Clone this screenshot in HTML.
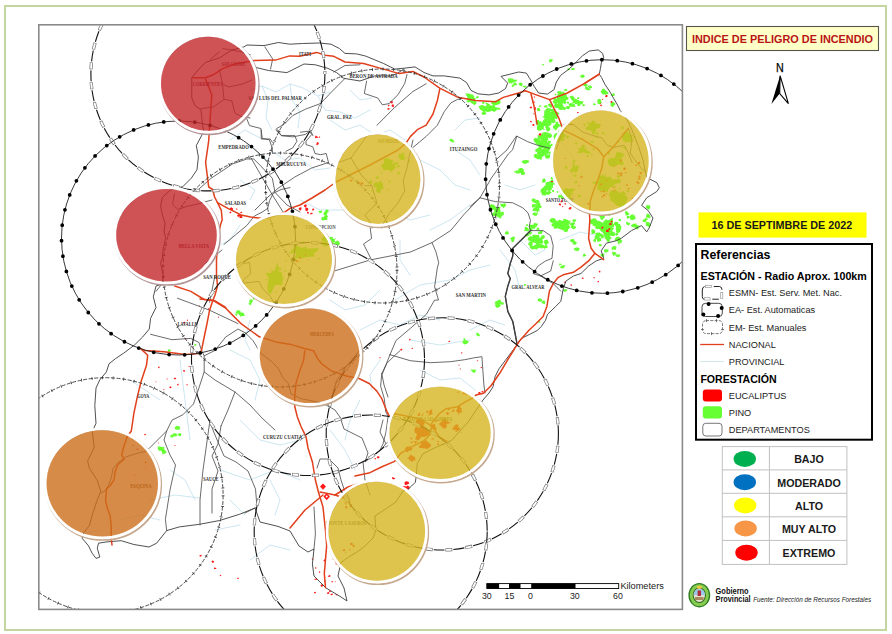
<!DOCTYPE html>
<html><head><meta charset="utf-8"><title>Indice de Peligro de Incendio</title>
<style>
html,body{margin:0;padding:0;background:#fff;}
body{width:892px;height:634px;overflow:hidden;position:relative;}
svg{position:absolute;left:0;top:0;display:block;}
.s{font-family:"Liberation Sans",Arial,sans-serif;}
.lbl{font-family:"Liberation Serif","Times New Roman",serif;font-weight:bold;font-size:5.8px;}
</style></head><body>
<svg width="892" height="634" viewBox="0 0 892 634">
<defs>
<clipPath id="mapclip"><rect x="39" y="25" width="643" height="584"/></clipPath>
<filter id="fz" x="-5%" y="-20%" width="110%" height="140%"><feGaussianBlur stdDeviation="0.6"/></filter>
</defs>
<rect x="0" y="0" width="892" height="634" fill="#fff"/>
<rect x="5" y="6" width="881" height="624" fill="none" stroke="#c3d6a0" stroke-width="2"/>
<g clip-path="url(#mapclip)">
<g id="blue"><polyline points="250.0,90.0 262.0,86.0 276.0,92.0 290.0,84.0 303.0,88.0 318.0,96.0 330.0,92.0" fill="none" stroke="#bfe0ee" stroke-width="0.8" stroke-linejoin="round" stroke-linecap="round" /><polyline points="262.0,86.0 268.0,100.0 266.0,118.0 272.0,130.0" fill="none" stroke="#bfe0ee" stroke-width="0.8" stroke-linejoin="round" stroke-linecap="round" /><polyline points="290.0,84.0 292.0,100.0 300.0,112.0 298.0,128.0" fill="none" stroke="#bfe0ee" stroke-width="0.8" stroke-linejoin="round" stroke-linecap="round" /><polyline points="318.0,96.0 325.0,110.0 340.0,112.0 355.0,118.0 370.0,110.0" fill="none" stroke="#bfe0ee" stroke-width="0.8" stroke-linejoin="round" stroke-linecap="round" /><polyline points="255.0,150.0 268.0,160.0" fill="none" stroke="#bfe0ee" stroke-width="0.8" stroke-linejoin="round" stroke-linecap="round" /><polyline points="230.0,140.0 245.0,130.0 260.0,138.0" fill="none" stroke="#bfe0ee" stroke-width="0.8" stroke-linejoin="round" stroke-linecap="round" /><polyline points="300.0,200.0 320.0,210.0 345.0,210.0 365.0,222.0" fill="none" stroke="#bfe0ee" stroke-width="0.8" stroke-linejoin="round" stroke-linecap="round" /><polyline points="180.0,360.0 185.0,400.0 190.0,440.0" fill="none" stroke="#bfe0ee" stroke-width="0.8" stroke-linejoin="round" stroke-linecap="round" /><polyline points="220.0,470.0 250.0,480.0 275.0,470.0 300.0,480.0" fill="none" stroke="#bfe0ee" stroke-width="0.8" stroke-linejoin="round" stroke-linecap="round" /><polyline points="150.0,500.0 175.0,495.0 200.0,498.0" fill="none" stroke="#bfe0ee" stroke-width="0.8" stroke-linejoin="round" stroke-linecap="round" /><polyline points="215.0,530.0 240.0,525.0" fill="none" stroke="#bfe0ee" stroke-width="0.8" stroke-linejoin="round" stroke-linecap="round" /><polyline points="240.0,420.0 260.0,440.0 280.0,445.0 300.0,440.0" fill="none" stroke="#bfe0ee" stroke-width="0.8" stroke-linejoin="round" stroke-linecap="round" /><polyline points="330.0,430.0 345.0,450.0 355.0,470.0" fill="none" stroke="#bfe0ee" stroke-width="0.8" stroke-linejoin="round" stroke-linecap="round" /><polyline points="360.0,330.0 380.0,320.0 400.0,325.0 420.0,315.0 440.0,320.0" fill="none" stroke="#bfe0ee" stroke-width="0.8" stroke-linejoin="round" stroke-linecap="round" /><polyline points="410.0,340.0 440.0,345.0 470.0,340.0" fill="none" stroke="#bfe0ee" stroke-width="0.8" stroke-linejoin="round" stroke-linecap="round" /><polyline points="395.0,300.0 420.0,285.0 450.0,280.0 470.0,270.0 490.0,265.0" fill="none" stroke="#bfe0ee" stroke-width="0.8" stroke-linejoin="round" stroke-linecap="round" /><polyline points="430.0,230.0 450.0,220.0 470.0,205.0" fill="none" stroke="#bfe0ee" stroke-width="0.8" stroke-linejoin="round" stroke-linecap="round" /><polyline points="455.0,150.0 470.0,160.0 480.0,175.0" fill="none" stroke="#bfe0ee" stroke-width="0.8" stroke-linejoin="round" stroke-linecap="round" /><polyline points="400.0,240.0 400.0,260.0 410.0,275.0" fill="none" stroke="#bfe0ee" stroke-width="0.8" stroke-linejoin="round" stroke-linecap="round" /><polyline points="500.0,250.0 515.0,270.0 520.0,290.0" fill="none" stroke="#bfe0ee" stroke-width="0.8" stroke-linejoin="round" stroke-linecap="round" /><polyline points="560.0,240.0 580.0,232.0 600.0,236.0" fill="none" stroke="#bfe0ee" stroke-width="0.8" stroke-linejoin="round" stroke-linecap="round" /><polyline points="270.0,150.0 285.0,160.0 300.0,158.0 315.0,170.0 330.0,168.0" fill="none" stroke="#bfe0ee" stroke-width="0.8" stroke-linejoin="round" stroke-linecap="round" /><polyline points="240.0,180.0 255.0,190.0 250.0,200.0" fill="none" stroke="#bfe0ee" stroke-width="0.8" stroke-linejoin="round" stroke-linecap="round" /><polyline points="330.0,120.0 345.0,130.0 360.0,125.0 375.0,135.0 390.0,130.0 405.0,140.0" fill="none" stroke="#bfe0ee" stroke-width="0.8" stroke-linejoin="round" stroke-linecap="round" /><polyline points="350.0,90.0 360.0,100.0 372.0,98.0" fill="none" stroke="#bfe0ee" stroke-width="0.8" stroke-linejoin="round" stroke-linecap="round" /><polyline points="420.0,160.0 440.0,170.0 455.0,185.0 470.0,190.0" fill="none" stroke="#bfe0ee" stroke-width="0.8" stroke-linejoin="round" stroke-linecap="round" /><polyline points="330.0,300.0 345.0,310.0 365.0,305.0 380.0,290.0" fill="none" stroke="#bfe0ee" stroke-width="0.8" stroke-linejoin="round" stroke-linecap="round" /><polyline points="250.0,320.0 245.0,340.0 250.0,350.0" fill="none" stroke="#bfe0ee" stroke-width="0.8" stroke-linejoin="round" stroke-linecap="round" /><polyline points="380.0,360.0 370.0,375.0 372.0,390.0" fill="none" stroke="#bfe0ee" stroke-width="0.8" stroke-linejoin="round" stroke-linecap="round" /><polyline points="420.0,370.0 440.0,380.0 460.0,378.0 475.0,390.0" fill="none" stroke="#bfe0ee" stroke-width="0.8" stroke-linejoin="round" stroke-linecap="round" /><polyline points="230.0,500.0 245.0,515.0" fill="none" stroke="#bfe0ee" stroke-width="0.8" stroke-linejoin="round" stroke-linecap="round" /><polyline points="270.0,480.0 280.0,500.0 275.0,515.0" fill="none" stroke="#bfe0ee" stroke-width="0.8" stroke-linejoin="round" stroke-linecap="round" /><polyline points="170.0,470.0 185.0,480.0 195.0,500.0" fill="none" stroke="#bfe0ee" stroke-width="0.8" stroke-linejoin="round" stroke-linecap="round" /><polyline points="130.0,380.0 145.0,390.0 160.0,400.0" fill="none" stroke="#bfe0ee" stroke-width="0.8" stroke-linejoin="round" stroke-linecap="round" /><polyline points="100.0,530.0 80.0,535.0" fill="none" stroke="#bfe0ee" stroke-width="0.8" stroke-linejoin="round" stroke-linecap="round" /><polyline points="520.0,240.0 535.0,255.0 545.0,250.0" fill="none" stroke="#bfe0ee" stroke-width="0.8" stroke-linejoin="round" stroke-linecap="round" /><polyline points="505.0,185.0 520.0,190.0 535.0,185.0" fill="none" stroke="#bfe0ee" stroke-width="0.8" stroke-linejoin="round" stroke-linecap="round" /><polyline points="560.0,140.0 575.0,160.0 570.0,180.0" fill="none" stroke="#bfe0ee" stroke-width="0.8" stroke-linejoin="round" stroke-linecap="round" /><polyline points="470.0,330.0 490.0,320.0 505.0,325.0" fill="none" stroke="#bfe0ee" stroke-width="0.8" stroke-linejoin="round" stroke-linecap="round" /><polyline points="455.0,130.0 465.0,120.0 480.0,118.0" fill="none" stroke="#bfe0ee" stroke-width="0.8" stroke-linejoin="round" stroke-linecap="round" /><polyline points="390.0,210.0 410.0,220.0 430.0,215.0" fill="none" stroke="#bfe0ee" stroke-width="0.8" stroke-linejoin="round" stroke-linecap="round" /><polyline points="360.0,400.0 350.0,420.0 345.0,440.0" fill="none" stroke="#bfe0ee" stroke-width="0.8" stroke-linejoin="round" stroke-linecap="round" /><polyline points="230.0,350.0 250.0,360.0 260.0,380.0 255.0,400.0" fill="none" stroke="#bfe0ee" stroke-width="0.8" stroke-linejoin="round" stroke-linecap="round" /><polyline points="210.0,250.0 230.0,240.0 240.0,225.0" fill="none" stroke="#bfe0ee" stroke-width="0.8" stroke-linejoin="round" stroke-linecap="round" /><polyline points="120.0,520.0 140.0,515.0 160.0,520.0" fill="none" stroke="#bfe0ee" stroke-width="0.8" stroke-linejoin="round" stroke-linecap="round" /><polyline points="250.0,560.0 270.0,545.0 290.0,550.0" fill="none" stroke="#bfe0ee" stroke-width="0.8" stroke-linejoin="round" stroke-linecap="round" /></g>
<g id="green"><polygon points="555.9,117.0 554.5,118.9 556.1,122.8 551.9,121.3 550.9,125.1 548.3,123.9 547.2,121.2 543.6,122.1 545.3,118.6 542.3,117.0 545.1,115.3 545.8,113.7 545.9,110.6 547.8,106.9 550.4,111.8 552.4,111.8 556.0,111.3 559.5,113.2" fill="#66ff33"/><polygon points="553.5,114.8 551.8,116.9 548.4,115.2 550.2,112.9 552.7,112.7" fill="#66ff33"/><polygon points="541.7,123.0 539.7,124.3 537.8,123.4 537.8,122.3 539.2,121.2 540.8,121.1" fill="#66ff33"/><polygon points="547.8,115.8 545.5,117.1 544.2,116.1 544.0,113.8 547.3,113.6" fill="#66ff33"/><polygon points="546.4,122.1 546.4,123.8 544.8,124.3 542.9,123.3 542.8,121.5 543.6,119.8 545.4,119.6 546.9,120.9" fill="#66ff33"/><polygon points="551.5,110.0 549.7,110.7 548.4,110.6 547.7,109.6 548.9,108.1 551.0,108.8" fill="#66ff33"/><polygon points="547.6,110.1 546.9,111.1 546.0,110.5 545.4,109.8 546.1,108.6 547.5,109.3" fill="#66ff33"/><polygon points="553.6,121.8 553.0,122.4 552.3,123.0 551.7,122.0 551.6,121.4 551.8,120.6 553.1,120.6 553.2,121.0" fill="#66ff33"/><polygon points="548.5,120.9 548.1,123.6 545.3,122.4 543.1,121.6 544.4,118.7 546.8,118.0 549.2,118.1" fill="#66ff33"/><polygon points="549.3,123.4 546.8,123.8 545.2,123.6 543.1,122.1 544.3,120.4 545.6,119.0 549.4,120.7" fill="#66ff33"/><polygon points="559.7,125.5 557.7,128.2 555.1,126.6 554.4,125.1 556.1,122.8 558.9,124.1" fill="#66ff33"/><polygon points="562.4,106.2 562.2,107.4 560.8,107.1 559.9,106.7 559.9,106.0 560.8,104.8 561.8,105.1 562.6,105.2" fill="#66ff33"/><polygon points="548.8,125.5 546.8,126.2 544.4,126.2 542.7,126.0 542.2,123.9 543.9,122.6 546.3,123.2 547.0,124.0" fill="#66ff33"/><polygon points="558.7,123.2 557.1,123.8 556.3,123.6 555.6,122.7 556.5,121.9 558.0,121.7" fill="#66ff33"/><polygon points="548.5,116.9 547.0,117.0 545.1,118.3 543.6,116.7 544.3,115.4 544.2,114.4 545.9,114.6 547.9,115.1" fill="#66ff33"/><polygon points="551.4,124.4 548.9,126.6 545.9,125.2 547.8,122.2 550.7,122.2" fill="#66ff33"/><polygon points="551.4,122.4 551.1,123.9 548.6,124.0 548.3,122.4 548.0,121.7 548.8,120.8 550.4,120.5 551.1,121.1" fill="#66ff33"/><polygon points="543.9,124.4 540.5,126.1 538.3,125.9 536.1,124.9 538.6,122.8 540.0,121.7 541.8,122.9" fill="#66ff33"/><polygon points="545.7,122.9 545.7,123.7 544.8,123.4 543.6,123.1 544.2,122.5 544.5,122.3 545.3,122.0 545.8,122.2" fill="#66ff33"/><polygon points="561.4,125.7 560.2,126.4 558.5,126.6 557.7,125.1 559.4,124.5 560.5,124.3" fill="#66ff33"/><polygon points="553.6,110.1 552.3,111.6 551.1,110.3 551.4,108.9 552.7,108.8" fill="#66ff33"/><polygon points="539.6,109.5 539.1,110.7 537.5,110.9 537.1,109.2 536.7,108.6 538.7,107.8 539.5,108.3" fill="#66ff33"/><polygon points="555.3,121.7 554.7,122.2 553.2,123.5 551.9,121.5 550.6,119.6 552.9,119.7 554.4,118.4 554.8,120.2" fill="#66ff33"/><polygon points="556.0,114.5 554.6,115.0 553.2,114.9 551.8,114.3 552.5,112.7 553.1,111.7 554.8,112.9" fill="#66ff33"/><polygon points="547.4,106.4 546.3,107.7 544.4,107.4 544.0,105.9 545.1,105.2 547.2,105.2" fill="#66ff33"/><polygon points="543.8,128.2 542.0,128.8 540.3,128.8 538.0,128.1 538.4,126.7 539.8,125.2 542.3,124.8 543.8,125.9" fill="#66ff33"/><polygon points="539.2,121.9 538.1,124.8 535.7,123.5 535.7,121.8 536.8,120.1 539.0,120.1" fill="#66ff33"/><polygon points="540.6,128.8 538.6,130.2 536.8,129.3 537.5,126.7 541.2,125.7" fill="#66ff33"/><polygon points="551.4,114.6 549.8,115.1 548.9,115.3 547.6,114.1 548.4,113.2 549.0,112.5 551.4,112.9" fill="#66ff33"/><polygon points="556.4,112.1 554.5,113.3 553.7,112.8 552.4,112.3 551.7,111.5 553.1,109.2 554.4,109.3 555.3,111.2" fill="#66ff33"/><polygon points="541.3,123.5 540.1,125.1 538.5,124.4 537.6,123.4 538.3,123.0 539.3,122.1 540.1,122.8" fill="#66ff33"/><polygon points="548.0,112.5 546.0,115.3 544.1,113.0 544.4,110.6 546.5,110.2" fill="#66ff33"/><polygon points="561.0,106.8 560.7,108.2 557.6,107.5 556.0,105.9 555.9,104.3 559.2,103.7 561.0,103.7" fill="#66ff33"/><polygon points="548.4,127.2 547.3,128.5 545.1,128.0 545.5,126.6 546.9,125.4 548.3,125.6" fill="#66ff33"/><polygon points="546.8,123.6 545.9,125.8 543.5,125.9 541.7,124.2 542.4,121.2 544.4,121.0 546.9,122.0" fill="#66ff33"/><polygon points="552.0,110.5 550.6,111.3 549.1,111.3 549.5,109.3 551.2,109.4" fill="#66ff33"/><polygon points="558.1,117.1 556.8,119.2 555.2,118.4 553.8,117.5 553.4,115.4 556.4,114.6 556.7,116.0" fill="#66ff33"/><polygon points="556.6,127.3 555.5,129.3 553.6,129.4 553.6,128.0 552.6,127.2 553.6,125.2 555.5,125.5 556.6,126.6" fill="#66ff33"/><polygon points="552.5,105.4 551.4,108.0 548.8,106.5 547.7,104.5 549.8,103.4 552.5,104.1" fill="#66ff33"/><polygon points="544.4,124.9 544.2,125.6 543.1,125.5 542.8,124.7 542.5,123.9 543.3,123.8 544.7,124.1" fill="#66ff33"/><polygon points="540.3,110.0 539.9,111.3 538.2,111.0 536.7,110.0 537.9,109.1 539.5,108.6 540.4,109.3" fill="#66ff33"/><polygon points="544.7,124.3 543.7,125.4 542.5,125.3 541.5,124.1 540.7,123.8 541.5,122.4 542.7,122.4 543.9,123.3" fill="#66ff33"/><polygon points="541.8,106.2 540.0,106.8 538.8,106.8 538.6,105.9 539.4,105.4 540.6,105.2" fill="#66ff33"/><polygon points="564.4,107.8 562.2,110.1 559.0,109.7 557.8,107.0 560.1,105.1 563.2,105.7" fill="#66ff33"/><polygon points="554.3,110.5 554.9,112.3 552.4,112.8 550.8,111.0 549.7,110.1 551.9,109.0 553.5,108.9 554.0,109.7" fill="#66ff33"/><polygon points="557.8,127.8 556.1,130.5 553.7,128.1 554.3,126.5 557.6,125.6" fill="#66ff33"/><polygon points="543.7,125.4 542.4,126.7 540.2,125.8 538.5,124.6 540.9,123.5 542.9,123.0" fill="#66ff33"/><polygon points="548.1,143.0 550.5,147.5 549.0,150.9 547.5,154.4 544.7,150.1 543.5,148.7 542.4,148.1 540.3,148.9 538.6,146.7 539.3,143.0 540.5,140.6 540.5,137.5 541.3,134.2 543.0,132.6 545.0,132.0 547.2,132.6 548.3,136.3 547.0,140.9" fill="#66ff33"/><polygon points="551.3,137.0 550.2,138.1 548.8,138.3 547.7,136.8 547.8,136.1 549.2,134.9 550.8,136.1" fill="#66ff33"/><polygon points="544.8,129.6 543.9,129.8 542.9,129.7 542.3,128.6 543.4,128.2 544.3,128.6" fill="#66ff33"/><polygon points="543.4,152.2 540.4,152.9 538.4,152.1 539.3,149.9 542.6,148.8" fill="#66ff33"/><polygon points="550.7,152.7 550.3,154.2 548.4,153.5 547.4,153.1 547.4,151.4 548.8,151.4 550.6,151.8" fill="#66ff33"/><polygon points="544.1,138.4 541.4,138.6 538.4,139.7 537.8,137.5 537.4,135.2 540.5,135.4 541.9,135.9" fill="#66ff33"/><polygon points="548.0,139.0 545.9,141.8 543.7,141.0 542.6,138.5 544.3,137.3 547.7,136.9" fill="#66ff33"/><polygon points="541.1,143.1 539.4,145.3 535.9,144.6 536.0,142.2 537.2,140.2 540.2,141.3" fill="#66ff33"/><polygon points="551.3,147.2 550.6,148.3 548.2,147.9 547.8,146.5 549.2,144.1 551.0,144.9" fill="#66ff33"/><polygon points="550.7,129.6 547.8,131.9 545.9,129.7 546.3,127.7 549.4,127.1" fill="#66ff33"/><polygon points="542.5,128.5 540.0,130.4 538.6,130.6 537.2,129.3 536.8,127.7 537.2,125.9 538.9,125.3 541.5,126.1" fill="#66ff33"/><polygon points="549.9,143.8 549.0,143.9 548.0,144.5 547.8,143.9 547.5,143.0 547.9,142.2 548.9,142.2 549.7,142.5" fill="#66ff33"/><polygon points="547.3,136.2 547.0,137.3 544.9,137.0 544.4,135.7 544.7,134.9 545.7,133.9 546.9,134.7" fill="#66ff33"/><polygon points="543.4,152.2 541.8,153.2 540.0,152.4 540.3,150.6 542.9,150.7" fill="#66ff33"/><polygon points="552.4,136.5 549.5,137.8 547.2,137.0 546.5,135.1 547.9,132.5 551.3,134.0" fill="#66ff33"/><polygon points="542.3,128.2 541.3,128.9 540.4,128.9 540.2,127.9 540.4,127.1 541.8,127.2" fill="#66ff33"/><polygon points="546.4,140.6 544.9,141.4 543.4,141.0 543.3,140.3 544.1,138.6 545.8,139.6" fill="#66ff33"/><polygon points="542.6,129.0 541.1,130.2 539.4,129.7 538.8,128.9 538.6,127.7 539.8,125.8 541.9,126.7" fill="#66ff33"/><polygon points="547.9,134.4 547.5,135.0 546.4,136.0 544.4,134.6 544.1,133.9 545.7,132.5 547.2,132.5 547.6,133.2" fill="#66ff33"/><polygon points="541.1,129.6 540.4,130.5 538.7,130.4 537.8,129.7 538.9,128.2 540.0,128.2 540.8,128.3" fill="#66ff33"/><polygon points="550.3,156.5 548.8,158.2 545.8,158.6 544.7,156.2 546.0,155.0 548.0,155.0 550.1,154.1" fill="#66ff33"/><polygon points="541.5,155.0 540.4,156.1 539.7,156.1 537.5,155.2 538.0,154.4 537.6,152.7 540.7,152.1 541.4,153.9" fill="#66ff33"/><polygon points="548.4,140.1 545.3,141.0 543.6,139.8 542.5,137.1 547.7,137.0" fill="#66ff33"/><polygon points="539.0,150.6 538.1,152.0 537.0,152.4 536.0,151.7 534.7,150.2 536.2,149.1 538.5,148.8 539.8,149.8" fill="#66ff33"/><polygon points="538.8,140.7 536.6,141.7 535.1,140.6 535.7,139.3 537.0,139.2" fill="#66ff33"/><polygon points="549.5,157.4 548.8,158.6 547.7,158.6 547.1,157.9 546.8,157.2 547.9,156.6 548.3,156.1 549.3,157.0" fill="#66ff33"/><polygon points="553.1,145.0 552.7,146.1 551.4,146.2 550.9,145.2 550.4,144.0 551.9,143.8 552.8,144.4" fill="#66ff33"/><polygon points="545.6,144.3 544.1,146.6 540.4,144.7 541.5,142.6 545.2,142.2" fill="#66ff33"/><polygon points="540.3,142.4 538.5,144.8 535.6,143.7 535.1,140.6 537.5,139.8 540.3,139.3" fill="#66ff33"/><polygon points="542.0,157.5 541.5,159.9 537.3,158.5 537.8,156.2 539.7,154.9 541.8,154.8" fill="#66ff33"/><polygon points="539.4,140.6 537.1,141.5 534.7,141.4 533.3,138.9 535.7,137.7 538.5,138.7" fill="#66ff33"/><polygon points="542.6,150.5 540.4,151.6 538.2,150.8 536.3,149.1 539.1,147.1 541.3,147.9" fill="#66ff33"/><polygon points="544.8,147.3 544.5,148.4 542.2,147.3 541.8,146.5 542.9,144.5 544.3,145.5" fill="#66ff33"/><polygon points="551.2,142.1 550.1,142.9 549.1,143.4 548.2,142.6 547.7,141.4 548.2,140.4 549.7,140.9 550.7,141.0" fill="#66ff33"/><polygon points="537.5,140.9 537.1,141.9 534.5,142.2 533.6,140.5 535.1,139.8 536.5,139.5 537.5,140.0" fill="#66ff33"/><polygon points="566.0,99.0 566.0,101.7 565.4,104.5 562.9,103.0 562.3,106.6 560.6,107.5 559.0,106.3 558.7,103.0 556.1,102.3 556.6,99.0 557.3,96.4 557.7,93.6 559.6,93.3 560.6,90.7 562.0,94.0 563.8,92.1 565.0,94.0 566.8,95.7" fill="#66ff33"/><polygon points="566.8,99.0 565.1,100.5 562.9,99.9 561.8,98.6 561.8,97.4 563.3,96.3 566.5,96.6" fill="#66ff33"/><polygon points="563.4,95.7 562.3,97.6 559.2,96.4 560.3,94.4 563.1,94.5" fill="#66ff33"/><polygon points="563.1,100.6 560.0,102.2 557.9,100.9 558.5,98.0 561.8,97.6" fill="#66ff33"/><polygon points="563.8,94.1 562.8,95.5 561.2,94.5 560.5,93.7 562.0,92.8 563.4,92.6" fill="#66ff33"/><polygon points="564.2,95.0 563.0,95.9 561.1,95.6 559.4,95.4 559.9,93.9 560.9,92.9 562.1,92.4 563.2,93.2" fill="#66ff33"/><polygon points="566.5,95.9 564.5,98.3 562.2,97.4 561.4,95.9 561.1,94.3 563.2,93.4 566.4,94.3" fill="#66ff33"/><polygon points="561.3,92.7 559.8,94.3 557.1,93.1 557.5,91.2 561.0,91.2" fill="#66ff33"/><polygon points="556.7,95.0 555.8,95.3 554.8,95.3 554.8,94.5 555.4,93.5 556.3,94.2" fill="#66ff33"/><polygon points="557.3,102.0 556.9,104.0 553.3,103.2 552.6,101.5 555.2,99.9 556.7,100.6" fill="#66ff33"/><polygon points="562.4,95.4 560.2,97.0 558.4,95.8 559.6,94.2 561.8,93.6" fill="#66ff33"/><polygon points="568.9,102.7 568.9,103.8 567.5,103.6 566.7,103.5 566.3,101.8 567.3,101.8 568.2,101.5 569.1,101.9" fill="#66ff33"/><polygon points="565.9,108.7 565.1,110.1 563.0,109.8 562.2,108.0 564.5,107.3 565.7,106.8" fill="#66ff33"/><polygon points="567.6,90.6 566.0,91.0 563.9,90.7 564.3,89.5 565.6,88.7 566.7,89.2" fill="#66ff33"/><polygon points="568.3,99.7 566.5,100.1 565.3,101.5 562.4,99.6 562.6,98.1 564.5,95.9 566.1,96.7 568.3,97.0" fill="#66ff33"/><polygon points="561.7,103.7 560.8,104.4 558.2,104.6 557.2,102.1 558.5,101.0 562.3,101.6" fill="#66ff33"/><polygon points="564.3,94.3 564.1,96.5 562.1,96.8 560.3,94.6 559.4,93.2 561.3,92.5 562.9,91.3 564.9,93.2" fill="#66ff33"/><polygon points="558.8,106.2 557.4,108.3 554.5,107.5 554.1,105.6 554.7,103.3 557.9,103.9" fill="#66ff33"/><polygon points="563.5,105.2 560.3,106.7 557.1,107.0 556.7,105.0 558.7,102.9 560.6,103.8" fill="#66ff33"/><polygon points="570.4,107.3 568.7,109.3 565.8,108.4 566.4,106.4 567.1,105.9 568.7,106.1" fill="#66ff33"/><polygon points="559.1,101.0 556.9,103.1 554.5,103.2 553.9,100.9 553.4,100.0 553.2,98.0 556.2,98.5 558.0,99.5" fill="#66ff33"/><polygon points="580.7,102.0 582.5,103.2 579.7,103.4 580.4,105.7 578.2,106.2 576.5,103.8 574.4,104.8 574.8,103.1 570.7,103.4 573.2,102.0 572.4,100.9 572.5,99.6 574.0,98.7 576.2,99.0 577.5,100.1 579.0,99.8 579.1,100.9 580.4,101.2" fill="#66ff33"/><polygon points="582.7,103.2 581.2,104.4 579.2,103.6 579.6,101.0 582.3,101.7" fill="#66ff33"/><polygon points="585.2,105.0 584.2,106.3 582.1,106.0 582.4,104.5 583.1,104.3 584.7,104.4" fill="#66ff33"/><polygon points="574.0,98.3 573.3,99.7 572.0,100.0 571.1,98.6 571.4,97.5 573.1,96.8 574.0,97.0" fill="#66ff33"/><polygon points="575.7,106.5 573.9,107.2 573.1,106.2 573.1,104.7 574.7,105.2" fill="#66ff33"/><polygon points="574.0,99.8 573.5,100.6 572.2,100.3 571.3,99.9 571.6,99.3 572.1,97.9 573.0,97.9 574.2,99.0" fill="#66ff33"/><polygon points="579.2,98.7 578.6,99.1 577.0,99.2 577.0,98.2 577.8,97.0 579.4,97.6" fill="#66ff33"/><polygon points="575.3,98.8 573.4,99.3 571.8,100.0 570.5,98.1 569.2,97.1 570.3,95.9 572.6,95.4 573.8,97.3" fill="#66ff33"/><polygon points="582.8,103.3 581.0,104.3 578.3,105.2 577.8,102.8 578.5,101.2 580.5,101.2 583.6,101.4" fill="#66ff33"/><polygon points="579.8,102.2 577.6,103.4 576.0,103.4 575.6,101.7 575.8,100.3 577.7,101.2" fill="#66ff33"/><polygon points="581.3,102.9 579.2,103.8 578.5,104.5 577.0,103.5 576.6,102.7 577.1,101.3 579.3,101.6 580.8,101.7" fill="#66ff33"/><polygon points="574.6,106.2 572.5,106.7 570.7,106.7 569.4,106.6 568.5,104.1 570.5,102.9 572.8,103.4 574.2,103.8" fill="#66ff33"/><polygon points="614.0,228.5 612.2,230.6 614.4,235.1 610.4,235.2 608.5,240.1 604.7,238.5 604.0,232.9 602.1,232.2 600.5,230.7 599.0,228.5 600.4,226.3 598.7,222.0 603.1,222.7 605.1,220.4 607.9,220.6 612.9,217.5 613.0,223.0 611.5,226.7" fill="#66ff33"/><polygon points="621.6,242.7 621.0,243.4 620.2,242.9 619.7,242.5 619.7,241.9 620.2,241.3 621.0,241.7" fill="#66ff33"/><polygon points="622.7,241.3 620.3,242.4 617.8,241.8 618.2,239.2 620.7,239.2" fill="#66ff33"/><polygon points="609.6,238.8 608.2,240.2 606.0,239.8 605.9,238.0 607.1,236.9 609.3,237.1" fill="#66ff33"/><polygon points="610.6,214.6 609.9,216.2 608.3,215.2 607.1,214.3 608.6,213.0 610.4,213.3" fill="#66ff33"/><polygon points="618.8,225.4 616.3,226.3 614.8,225.3 613.4,224.0 615.0,221.7 618.0,221.9" fill="#66ff33"/><polygon points="619.9,243.1 619.3,244.2 617.9,243.9 617.7,242.4 618.6,241.7 619.6,242.2" fill="#66ff33"/><polygon points="618.2,234.3 617.3,235.3 615.9,235.7 615.0,234.1 615.7,233.4 616.6,233.0 618.2,233.2" fill="#66ff33"/><polygon points="595.8,241.2 595.3,242.5 594.0,241.5 592.8,240.3 594.4,238.9 596.3,239.3" fill="#66ff33"/><polygon points="608.6,229.3 608.0,230.8 607.0,230.4 605.2,230.2 604.3,228.4 606.4,227.6 607.2,227.1 609.5,227.6" fill="#66ff33"/><polygon points="620.2,231.2 617.5,233.6 616.4,231.6 616.7,229.0 620.3,228.9" fill="#66ff33"/><polygon points="618.8,226.6 618.1,227.3 617.4,227.4 616.3,226.7 616.5,225.2 617.9,225.4 618.8,225.1" fill="#66ff33"/><polygon points="610.1,241.1 608.4,242.2 606.6,241.0 606.9,239.3 609.5,239.4" fill="#66ff33"/><polygon points="604.9,217.5 603.7,218.7 602.7,218.0 603.1,216.4 604.9,216.5" fill="#66ff33"/><polygon points="597.3,221.0 595.9,222.4 594.7,221.5 595.4,220.2 597.4,219.8" fill="#66ff33"/><polygon points="621.6,226.9 620.2,228.2 618.3,228.9 617.7,226.3 618.7,224.4 621.2,226.1" fill="#66ff33"/><polygon points="614.5,233.9 613.1,235.6 611.4,235.0 610.2,234.4 609.9,232.8 610.9,232.4 612.2,231.9 612.9,232.9" fill="#66ff33"/><polygon points="597.3,238.2 596.2,239.3 594.9,238.7 594.2,237.5 595.0,236.9 597.2,236.7" fill="#66ff33"/><polygon points="610.5,227.7 608.5,229.5 606.3,228.5 605.7,226.5 607.1,225.6 609.8,225.4" fill="#66ff33"/><polygon points="601.6,240.6 600.2,241.3 598.1,241.9 596.9,241.0 597.7,238.4 599.0,237.9 600.5,239.2" fill="#66ff33"/><polygon points="615.5,234.5 613.9,236.2 610.9,235.8 610.8,233.9 611.9,232.5 614.3,232.0" fill="#66ff33"/><polygon points="602.1,226.5 601.4,228.5 597.3,227.7 596.8,225.7 599.0,222.5 602.7,223.3" fill="#66ff33"/><polygon points="595.9,222.8 595.4,223.4 594.0,223.4 593.8,222.3 594.2,221.0 596.0,221.0" fill="#66ff33"/><polygon points="610.2,235.3 608.9,235.7 607.9,236.2 606.5,235.4 606.7,234.3 608.0,233.3 608.6,233.6 609.9,234.3" fill="#66ff33"/><polygon points="620.3,226.3 618.6,228.1 616.0,227.5 615.5,225.1 618.0,224.1 620.0,224.0" fill="#66ff33"/><polygon points="606.6,229.3 604.6,231.9 602.8,230.1 600.9,228.6 603.5,227.0 606.3,227.9" fill="#66ff33"/><polygon points="604.8,216.8 602.4,218.2 600.6,218.3 599.0,216.1 601.4,215.1 603.5,215.9" fill="#66ff33"/><polygon points="610.2,224.3 609.6,225.9 607.6,226.3 606.5,224.3 605.9,223.4 607.2,222.5 608.6,221.9 610.7,222.8" fill="#66ff33"/><polygon points="597.4,223.7 596.5,224.7 593.9,224.7 593.5,223.5 594.1,222.4 595.5,221.1 597.3,222.1" fill="#66ff33"/><polygon points="603.0,224.9 601.7,225.3 601.0,225.2 599.9,225.0 600.6,223.7 601.1,223.2 602.9,223.8" fill="#66ff33"/><polygon points="599.9,237.2 597.9,238.4 595.8,239.6 594.6,236.8 595.2,236.0 597.5,233.8 599.2,235.9" fill="#66ff33"/><polygon points="595.3,221.1 593.8,221.4 592.6,221.2 591.7,219.8 593.4,218.2 594.5,219.3" fill="#66ff33"/><polygon points="604.4,215.0 604.7,216.6 602.1,216.1 600.6,216.8 600.1,214.7 602.0,213.9 603.8,212.9 604.8,214.0" fill="#66ff33"/><polygon points="610.1,230.0 608.3,231.0 606.6,230.6 606.1,228.6 607.1,226.8 609.3,227.7" fill="#66ff33"/><polygon points="602.7,224.7 600.5,226.7 598.1,225.3 598.3,221.5 601.8,222.3" fill="#66ff33"/><polygon points="605.9,221.8 604.9,222.6 603.9,222.7 603.2,221.4 604.5,220.6 605.6,220.9" fill="#66ff33"/><polygon points="608.4,231.5 607.7,231.9 606.5,232.4 605.5,231.4 605.7,230.6 606.1,230.0 607.4,229.6 607.9,230.4" fill="#66ff33"/><polygon points="596.8,225.0 596.5,226.3 594.5,226.5 592.7,225.6 592.4,223.9 593.9,222.9 596.0,222.6 596.8,223.3" fill="#66ff33"/><polygon points="604.1,236.3 602.9,238.8 601.0,237.3 600.2,236.4 599.6,234.5 601.4,233.5 603.6,235.3" fill="#66ff33"/><polygon points="599.4,227.0 599.9,229.1 597.3,229.3 595.1,228.5 595.6,226.6 596.6,224.7 598.8,224.3 599.3,226.5" fill="#66ff33"/><polygon points="603.2,218.8 602.5,220.5 600.1,218.8 600.9,217.4 603.2,217.2" fill="#66ff33"/><polygon points="618.4,232.0 618.1,232.7 616.8,233.0 616.2,231.8 616.0,230.8 617.2,230.8 618.1,231.2" fill="#66ff33"/><polygon points="600.8,239.9 599.7,240.6 597.4,240.3 596.8,238.8 598.0,237.4 601.7,238.0" fill="#66ff33"/><polygon points="596.4,220.0 594.6,221.9 592.6,220.1 593.1,218.4 596.0,218.5" fill="#66ff33"/><polygon points="612.9,224.5 611.7,226.3 609.6,225.9 607.9,224.9 609.0,223.5 608.6,222.3 611.1,222.5 612.6,222.9" fill="#66ff33"/><polygon points="620.4,231.2 619.6,232.5 618.7,231.9 617.4,231.0 617.9,230.4 619.0,229.4 620.4,230.3" fill="#66ff33"/><polygon points="620.2,238.5 619.4,239.3 617.5,239.7 617.1,238.2 618.0,236.9 620.3,237.4" fill="#66ff33"/><polygon points="601.4,235.4 597.4,237.5 595.8,236.3 595.3,232.8 600.0,232.6" fill="#66ff33"/><polygon points="601.0,224.0 599.2,224.7 597.8,224.9 596.1,224.3 595.5,222.9 596.6,221.8 598.2,220.6 601.3,222.1" fill="#66ff33"/><polygon points="595.2,231.9 595.0,233.6 592.3,233.3 591.5,232.3 591.3,229.9 593.1,229.0 595.3,230.8" fill="#66ff33"/><polygon points="611.6,238.1 609.7,239.9 608.4,238.2 608.2,235.8 610.4,236.6" fill="#66ff33"/><polygon points="608.7,233.2 607.4,235.7 604.0,234.9 603.3,233.9 603.1,231.6 605.5,230.6 608.8,231.6" fill="#66ff33"/><polygon points="620.3,239.3 617.6,241.6 614.2,240.3 616.1,237.0 618.6,236.4" fill="#66ff33"/><polygon points="593.8,233.4 593.4,233.8 592.3,233.9 591.4,233.7 592.0,233.1 592.4,232.4 592.9,232.3 593.6,232.7" fill="#66ff33"/><polygon points="621.4,229.3 618.1,231.8 616.1,230.2 615.6,228.4 617.3,226.4 619.6,226.3" fill="#66ff33"/><polygon points="621.1,220.7 620.5,221.3 618.9,220.9 618.1,220.1 619.5,218.9 620.7,219.0" fill="#66ff33"/><polygon points="597.5,222.8 596.3,223.9 594.8,224.9 593.2,223.0 595.1,221.9 595.6,220.6 597.0,222.2" fill="#66ff33"/><polygon points="607.9,221.1 606.5,221.8 604.4,221.9 605.7,219.2 607.1,219.5" fill="#66ff33"/><polygon points="610.3,233.0 607.4,233.6 604.9,232.7 606.9,231.1 608.5,230.4" fill="#66ff33"/><polygon points="595.2,222.4 593.1,224.0 590.7,224.3 589.5,221.0 591.6,219.0 595.7,220.1" fill="#66ff33"/><polygon points="614.1,225.8 613.7,227.3 611.9,227.3 611.5,226.1 610.5,225.1 611.9,224.0 613.9,224.0 613.9,225.1" fill="#66ff33"/><polygon points="553.1,186.0 551.0,187.0 552.3,189.7 550.7,189.9 549.7,191.1 548.3,191.6 547.3,190.0 545.8,189.6 545.7,187.6 545.1,186.0 545.6,184.4 545.8,182.5 547.2,181.9 548.5,181.9 549.7,181.0 550.6,182.2 552.6,182.0 553.3,183.9" fill="#66ff33"/><polygon points="554.8,184.0 554.1,184.7 553.0,184.4 552.4,183.8 552.7,182.9 553.6,182.6 554.2,183.2" fill="#66ff33"/><polygon points="547.3,193.4 545.3,194.1 543.0,193.9 542.1,192.1 544.5,190.5 545.7,191.4" fill="#66ff33"/><polygon points="554.2,191.4 553.5,192.3 552.1,191.8 551.9,190.8 552.5,190.1 553.8,190.0" fill="#66ff33"/><polygon points="553.6,181.3 551.9,182.2 550.1,181.5 550.8,180.0 552.7,179.1" fill="#66ff33"/><polygon points="545.5,181.6 544.9,182.6 542.5,182.7 542.0,181.5 542.4,179.4 544.2,178.1 545.7,179.9" fill="#66ff33"/><polygon points="547.0,191.0 545.1,191.9 542.4,193.2 540.4,192.2 540.9,189.3 542.4,188.1 543.6,187.1 546.0,188.6" fill="#66ff33"/><polygon points="551.7,192.5 548.5,194.9 545.7,193.6 547.6,191.5 549.9,191.0" fill="#66ff33"/><polygon points="553.1,178.3 552.3,179.5 550.5,179.1 550.8,178.1 551.1,176.7 552.6,177.4" fill="#66ff33"/><polygon points="553.2,187.4 552.7,188.1 551.1,187.9 550.7,186.4 552.0,186.3 552.9,186.2" fill="#66ff33"/><polygon points="544.6,193.9 543.5,194.9 542.2,195.5 541.6,193.9 541.8,193.1 543.1,192.4 544.0,193.1" fill="#66ff33"/><polygon points="547.5,189.1 546.3,190.5 544.7,191.2 542.4,189.7 543.5,188.4 544.4,185.5 545.5,186.5 547.4,187.4" fill="#66ff33"/><polygon points="547.5,194.4 546.0,194.8 545.0,195.7 543.4,195.3 543.0,193.5 543.6,191.6 546.3,191.3 547.8,192.5" fill="#66ff33"/><polygon points="553.1,182.8 551.5,183.5 550.1,184.0 549.8,182.2 550.9,181.7 552.6,181.9" fill="#66ff33"/><polygon points="539.4,208.0 539.1,209.0 540.0,211.7 538.3,210.5 538.1,214.2 537.1,211.9 536.5,211.2 535.2,211.4 535.3,209.4 534.6,208.0 535.7,206.8 534.6,203.7 536.3,204.4 536.9,201.7 537.8,204.7 539.2,202.6 540.5,203.5 539.8,206.5" fill="#66ff33"/><polygon points="535.9,206.8 534.0,207.4 532.1,207.5 531.8,205.8 532.4,204.0 534.9,204.3" fill="#66ff33"/><polygon points="539.7,201.8 537.5,202.4 535.3,202.0 536.4,199.7 538.3,200.0" fill="#66ff33"/><polygon points="537.7,214.8 535.9,215.9 534.4,215.8 533.1,214.1 534.4,212.4 537.1,212.8" fill="#66ff33"/><polygon points="538.8,202.5 536.2,203.4 534.1,202.9 534.8,200.9 537.7,200.0" fill="#66ff33"/><polygon points="542.3,207.1 539.7,208.3 536.9,207.0 537.5,204.1 540.3,205.2" fill="#66ff33"/><polygon points="535.3,214.2 534.5,214.8 533.6,214.8 532.4,215.0 532.4,213.9 533.3,212.6 534.3,213.0 534.6,213.6" fill="#66ff33"/><polygon points="536.0,201.5 534.2,202.5 532.9,202.0 531.3,200.4 532.7,198.2 535.5,198.9" fill="#66ff33"/><polygon points="536.8,210.1 535.4,211.1 532.3,210.9 533.4,208.3 536.2,207.0" fill="#66ff33"/><polygon points="539.4,203.3 538.8,203.9 538.0,204.0 536.4,203.6 536.0,202.7 537.5,201.4 538.4,202.0 539.4,202.6" fill="#66ff33"/><polygon points="539.1,205.4 537.6,206.6 536.5,206.0 537.1,204.7 538.8,204.4" fill="#66ff33"/><polygon points="572.2,224.0 568.3,224.8 570.6,227.0 568.7,228.4 565.6,228.9 562.6,228.4 559.7,228.1 557.5,227.0 557.2,225.4 557.7,224.0 555.9,222.4 557.6,221.1 559.5,219.8 563.0,221.0 565.6,218.9 567.5,220.7 571.2,220.7 568.2,223.2" fill="#66ff33"/><polygon points="576.0,227.6 574.8,229.1 572.7,228.7 573.3,227.1 574.0,226.2 575.8,226.3" fill="#66ff33"/><polygon points="564.1,223.5 561.6,225.0 557.6,224.3 557.6,222.5 559.5,221.0 562.8,221.2" fill="#66ff33"/><polygon points="568.0,223.5 566.6,224.4 564.7,225.1 564.0,223.3 565.7,222.0 567.2,222.5" fill="#66ff33"/><polygon points="570.6,222.9 568.1,224.1 565.5,224.8 564.3,223.2 563.1,221.7 564.8,219.7 567.1,219.5 569.0,220.9" fill="#66ff33"/><polygon points="556.2,220.9 554.4,222.7 551.4,222.7 549.9,221.2 549.5,219.9 551.3,218.3 553.7,218.0 555.0,218.8" fill="#66ff33"/><polygon points="561.9,227.4 560.2,229.3 557.2,228.0 558.3,224.7 561.2,224.4" fill="#66ff33"/><polygon points="574.9,227.7 573.7,229.5 570.9,227.5 571.4,224.8 574.0,225.6" fill="#66ff33"/><polygon points="568.4,230.1 567.0,232.3 563.8,231.4 563.9,229.2 565.9,227.5 567.5,228.7" fill="#66ff33"/><polygon points="558.5,225.7 557.1,226.4 555.5,227.1 553.0,225.2 553.8,222.8 557.0,222.9 558.5,223.9" fill="#66ff33"/><polygon points="575.2,224.1 573.8,225.1 571.7,225.5 570.3,225.4 570.4,223.1 571.6,222.5 573.3,222.5 574.5,222.5" fill="#66ff33"/><polygon points="569.3,228.4 567.3,229.8 565.7,229.0 565.9,226.8 568.3,226.3" fill="#66ff33"/><polygon points="568.8,223.7 565.9,223.9 563.6,224.9 562.0,222.3 564.1,220.8 565.0,219.4 567.3,221.4" fill="#66ff33"/><polygon points="564.5,228.5 563.5,230.6 560.8,229.5 559.4,228.3 560.5,226.6 561.5,225.6 563.5,227.5" fill="#66ff33"/><polygon points="554.7,225.2 554.3,226.2 552.3,226.4 551.7,225.9 551.6,224.4 552.4,223.2 553.8,223.3 554.9,224.1" fill="#66ff33"/><polygon points="558.7,227.3 556.8,228.4 554.2,228.8 553.7,227.0 553.5,224.6 555.6,225.1 557.3,225.6" fill="#66ff33"/><polygon points="576.0,221.0 574.1,222.4 573.0,221.4 572.1,220.2 573.5,219.2 576.3,219.4" fill="#66ff33"/><polygon points="567.7,221.1 565.3,222.9 563.7,221.9 563.0,220.2 563.7,218.4 565.6,219.8" fill="#66ff33"/><polygon points="559.3,223.0 556.5,225.6 554.3,224.6 553.5,223.2 553.4,222.3 553.7,220.3 556.5,220.4 557.3,221.6" fill="#66ff33"/><polygon points="536.1,227.0 535.5,227.5 534.7,227.9 534.9,228.9 533.2,228.8 531.8,228.7 531.0,228.2 528.9,228.4 529.8,227.5 529.4,227.0 528.6,226.3 528.9,225.6 529.7,224.7 531.7,224.8 533.5,224.5 535.2,224.8 536.1,225.6 537.0,226.3" fill="#66ff33"/><polygon points="528.1,225.5 527.2,226.0 526.5,225.9 525.5,225.3 526.2,224.8 527.0,224.1 527.9,224.4" fill="#66ff33"/><polygon points="533.0,230.2 530.9,231.5 529.5,230.0 529.4,227.9 531.4,228.0" fill="#66ff33"/><polygon points="529.0,230.4 528.4,231.5 525.9,230.9 524.1,231.1 524.7,229.1 525.0,226.8 526.4,226.9 528.3,228.1" fill="#66ff33"/><polygon points="539.8,229.5 538.8,230.1 537.2,230.4 536.5,230.2 536.5,229.1 536.9,227.8 538.5,227.5 538.9,228.6" fill="#66ff33"/><polygon points="537.9,225.0 536.1,226.2 534.8,226.5 534.1,224.9 533.6,223.9 534.4,222.4 536.0,223.4 537.6,223.3" fill="#66ff33"/><polygon points="541.3,240.0 543.8,242.0 542.1,243.5 539.0,243.3 538.0,246.5 535.7,243.5 534.7,242.4 531.7,243.0 531.0,241.5 527.6,240.0 528.0,237.7 530.4,236.1 534.6,237.5 535.3,235.0 537.7,234.9 539.5,236.1 539.4,238.1 542.4,238.4" fill="#66ff33"/><polygon points="539.3,247.6 536.7,249.4 533.4,248.7 534.4,244.8 537.1,244.7" fill="#66ff33"/><polygon points="539.9,245.8 537.7,246.8 535.6,245.7 536.5,244.2 539.1,243.3" fill="#66ff33"/><polygon points="532.8,244.4 532.1,244.9 529.8,244.7 527.8,245.0 528.8,242.6 529.1,241.9 530.8,241.2 532.4,242.4" fill="#66ff33"/><polygon points="531.2,233.5 530.5,234.3 528.8,234.2 528.6,232.8 529.9,232.0 530.7,232.8" fill="#66ff33"/><polygon points="542.9,245.8 540.5,247.5 538.8,246.3 539.1,244.6 541.0,244.1" fill="#66ff33"/><polygon points="549.0,242.7 547.4,243.9 545.3,245.4 544.0,242.4 544.2,240.3 547.4,239.5 548.3,241.4" fill="#66ff33"/><polygon points="545.0,237.1 544.1,238.4 542.7,239.2 540.4,237.8 541.9,235.4 543.8,234.9 544.9,236.2" fill="#66ff33"/><polygon points="545.1,247.2 543.4,247.7 540.9,248.4 539.1,247.2 539.8,246.0 539.8,244.4 542.1,244.5 544.5,245.5" fill="#66ff33"/><polygon points="539.9,242.7 539.4,243.4 538.1,243.9 536.7,243.8 536.1,241.5 536.7,240.7 538.6,241.2 540.1,241.4" fill="#66ff33"/><polygon points="542.7,240.0 540.8,240.8 537.7,240.2 538.9,238.1 541.5,237.5" fill="#66ff33"/><polygon points="540.6,245.6 539.2,246.7 538.3,245.9 537.8,244.6 539.8,244.5" fill="#66ff33"/><polygon points="539.6,235.8 537.8,236.5 537.1,235.9 536.9,234.7 538.4,234.9" fill="#66ff33"/><polygon points="542.5,246.3 540.3,247.9 538.6,247.5 537.4,245.5 539.4,243.6 541.5,245.0" fill="#66ff33"/><polygon points="541.5,245.7 540.4,246.7 538.6,245.8 538.6,244.0 541.0,244.5" fill="#66ff33"/><polygon points="529.4,235.5 527.8,235.9 527.1,236.7 525.4,235.9 525.4,234.2 525.8,233.7 527.6,234.0 528.9,233.9" fill="#66ff33"/><polygon points="531.6,233.7 531.1,234.7 530.4,234.5 529.4,233.7 528.9,232.9 529.4,232.2 531.1,231.7 532.2,232.8" fill="#66ff33"/><polygon points="542.1,233.0 541.7,234.0 539.5,234.1 538.2,234.3 537.9,231.8 539.8,231.4 541.1,230.2 543.0,231.2" fill="#66ff33"/><polygon points="534.7,248.5 532.5,249.7 531.1,248.8 529.8,247.6 529.8,246.1 532.7,245.4 534.8,246.6" fill="#66ff33"/><polygon points="532.6,245.6 530.9,246.1 530.4,246.5 529.1,245.9 529.4,245.0 530.1,244.5 531.2,244.1 531.9,244.7" fill="#66ff33"/><polygon points="535.6,236.8 535.4,237.7 532.7,238.3 532.5,236.8 532.1,235.2 534.1,234.4 536.4,235.3" fill="#66ff33"/><polygon points="545.7,247.4 544.9,249.1 543.6,248.2 542.9,247.7 542.9,247.2 543.3,246.3 544.7,245.8 545.5,246.7" fill="#66ff33"/><polygon points="539.5,241.7 537.4,241.7 534.9,242.2 533.9,241.3 534.8,239.6 536.4,238.4 537.9,239.7" fill="#66ff33"/><polygon points="542.8,242.4 542.6,243.8 540.3,243.6 539.0,242.8 540.5,241.0 541.5,239.7 542.9,240.8" fill="#66ff33"/><polygon points="547.8,246.7 547.2,248.0 545.1,247.9 544.7,246.9 545.1,245.3 546.3,245.1 547.3,245.7" fill="#66ff33"/><polygon points="500.8,211.0 500.0,212.4 500.4,214.9 498.5,214.5 497.8,217.1 496.3,216.6 494.9,215.9 493.5,214.9 493.9,212.5 494.6,211.0 493.2,209.1 494.7,208.4 495.1,206.6 496.5,207.5 497.5,207.3 499.0,206.4 500.5,207.1 500.0,209.5" fill="#66ff33"/><polygon points="503.0,213.8 501.0,214.7 500.4,213.8 500.1,212.3 501.6,212.6" fill="#66ff33"/><polygon points="492.9,205.9 490.6,208.3 489.7,206.4 489.7,204.9 492.0,203.9" fill="#66ff33"/><polygon points="493.2,209.1 492.3,209.7 491.7,209.5 490.2,209.9 489.7,208.5 490.9,207.4 492.0,207.0 493.9,208.1" fill="#66ff33"/><polygon points="501.5,216.9 500.7,218.4 499.5,218.1 497.9,217.1 498.4,214.9 499.9,215.3 501.8,215.5" fill="#66ff33"/><polygon points="494.7,206.8 492.5,208.0 490.8,206.7 491.2,205.2 493.4,204.3" fill="#66ff33"/><polygon points="495.0,215.1 494.4,216.3 492.6,215.5 491.1,214.3 493.3,212.5 495.6,213.4" fill="#66ff33"/><polygon points="496.7,208.7 495.1,209.9 493.0,208.8 493.5,206.7 495.4,206.3" fill="#66ff33"/><polygon points="503.7,215.2 501.7,215.7 499.9,216.8 497.9,216.1 498.0,214.3 498.7,212.2 501.4,212.5 503.6,212.8" fill="#66ff33"/><polygon points="504.0,213.0 503.3,214.0 501.6,213.9 501.1,213.8 500.7,212.9 501.7,211.7 502.4,211.8 503.4,212.1" fill="#66ff33"/><polygon points="500.9,215.1 500.1,215.9 498.8,215.4 498.5,214.7 499.4,213.6 500.6,213.8" fill="#66ff33"/><polygon points="498.2,212.2 497.0,212.7 496.1,213.1 495.6,212.2 494.7,211.7 495.4,210.8 496.7,210.9 497.5,211.2" fill="#66ff33"/><polygon points="506.1,205.8 503.7,207.9 501.9,206.7 500.9,206.2 500.1,203.7 502.7,203.9 505.3,202.9" fill="#66ff33"/><polygon points="496.8,208.5 494.8,209.8 492.6,209.2 490.4,208.4 491.7,206.2 494.5,205.2 495.3,207.2" fill="#66ff33"/><polygon points="522.9,172.0 520.4,172.4 519.9,172.8 519.5,173.3 518.6,173.8 517.5,173.5 516.3,173.5 515.7,173.0 515.4,172.5 513.6,172.0 514.0,171.3 516.3,171.3 515.5,169.9 517.5,170.7 518.5,170.5 520.3,170.0 521.7,170.5 522.8,171.1" fill="#66ff33"/><polygon points="525.0,173.3 524.3,174.7 521.1,174.8 520.9,173.2 518.7,172.1 521.9,170.8 523.1,169.7 524.1,171.4" fill="#66ff33"/><polygon points="523.7,173.4 523.3,174.5 521.8,174.7 520.9,173.3 520.6,172.2 521.1,171.7 523.0,171.5 523.7,172.1" fill="#66ff33"/><polygon points="524.5,173.5 523.2,174.5 521.7,174.2 521.0,173.3 521.6,172.6 522.9,172.0 523.7,172.1" fill="#66ff33"/><polygon points="524.4,169.9 520.5,171.7 518.1,170.7 520.0,168.1 522.0,167.9" fill="#66ff33"/><polygon points="522.3,170.6 520.3,172.6 518.3,170.9 518.6,168.5 522.2,168.3" fill="#66ff33"/><polygon points="548.8,154.0 546.8,154.7 547.7,156.2 545.0,155.6 543.9,155.4 542.8,156.4 540.8,156.9 539.4,156.1 538.3,155.2 539.5,154.0 538.3,152.8 540.3,152.3 542.1,152.6 542.7,151.3 544.4,150.9 545.4,152.0 546.8,152.3 546.4,153.3" fill="#66ff33"/><polygon points="543.2,153.4 541.6,155.5 540.4,155.5 539.1,154.1 539.0,152.8 538.8,151.6 541.8,151.5 542.1,152.2" fill="#66ff33"/><polygon points="546.4,152.4 545.5,153.8 544.6,153.3 541.8,152.7 542.1,151.6 543.0,148.9 545.3,149.0 546.4,150.6" fill="#66ff33"/><polygon points="541.6,153.6 539.8,154.6 538.3,154.5 537.0,153.8 537.3,151.5 539.3,151.4 540.8,151.9" fill="#66ff33"/><polygon points="545.6,154.1 543.2,155.7 541.8,155.3 540.8,153.7 542.6,152.8 545.0,153.0" fill="#66ff33"/><polygon points="539.9,157.4 538.2,159.5 536.1,158.2 534.1,157.1 534.5,155.7 537.3,154.4 538.8,155.6" fill="#66ff33"/><polygon points="546.8,152.3 545.2,153.2 541.7,153.3 542.1,151.7 543.7,149.6 546.7,149.5" fill="#66ff33"/><polygon points="543.9,154.4 543.0,156.5 540.8,155.7 539.7,154.9 538.6,153.2 538.9,152.0 542.0,151.8 544.1,153.6" fill="#66ff33"/><polygon points="334.7,240.5 335.1,241.2 336.3,242.6 333.3,242.1 332.3,242.8 330.8,242.5 329.1,242.7 328.9,241.7 324.6,241.8 324.4,240.5 328.3,239.9 328.8,239.3 328.8,238.0 330.2,236.7 332.6,237.1 333.3,238.9 336.7,238.2 334.4,239.9" fill="#66ff33"/><polygon points="334.0,243.2 332.1,243.5 330.8,243.4 329.4,242.0 330.8,241.5 332.7,241.1" fill="#66ff33"/><polygon points="336.1,245.0 335.4,246.0 334.4,246.5 333.1,245.1 332.4,243.9 333.5,243.2 334.9,243.1 336.5,244.1" fill="#66ff33"/><polygon points="333.5,244.4 332.9,244.7 331.6,245.1 331.1,244.3 331.4,243.9 331.6,243.0 332.3,242.8 333.4,243.6" fill="#66ff33"/><polygon points="325.3,243.7 323.9,245.3 320.9,244.3 321.5,242.8 322.6,241.9 325.1,242.1" fill="#66ff33"/><polygon points="340.0,243.9 338.1,245.8 335.2,246.5 333.9,243.8 335.1,242.0 337.3,240.4 338.9,241.2" fill="#66ff33"/><polygon points="334.1,244.6 333.5,245.4 332.2,246.6 330.8,245.0 330.2,243.2 331.3,242.8 333.0,242.9 334.6,243.6" fill="#66ff33"/><polygon points="327.3,239.6 324.2,240.4 321.7,240.2 321.7,237.5 323.9,236.3 326.3,237.2" fill="#66ff33"/><polygon points="327.0,242.8 325.7,244.0 324.6,244.0 323.9,243.0 324.4,242.2 325.0,241.9 326.7,242.0" fill="#66ff33"/><polygon points="325.3,240.7 323.3,241.5 321.4,241.3 322.4,239.4 324.5,238.9" fill="#66ff33"/><polygon points="328.5,244.6 326.9,246.4 323.7,245.9 323.7,243.7 325.1,242.3 326.8,243.5" fill="#66ff33"/><polygon points="498.5,108.0 497.6,109.6 495.9,110.7 494.3,111.9 491.7,110.8 490.1,111.5 487.5,112.1 485.1,111.3 483.9,109.7 487.2,108.0 485.0,106.5 486.6,105.5 488.5,105.1 490.3,105.5 491.6,105.6 493.7,104.9 495.2,105.7 495.1,107.0" fill="#66ff33"/><polygon points="492.0,108.9 490.3,111.2 487.4,109.8 485.1,109.1 486.4,107.3 488.5,107.2 489.9,107.5" fill="#66ff33"/><polygon points="490.0,110.1 488.7,111.7 486.2,110.7 485.5,110.0 485.0,108.3 487.4,107.6 488.5,108.6" fill="#66ff33"/><polygon points="485.9,108.9 483.5,110.9 481.1,109.7 481.7,108.2 482.3,105.6 484.9,106.5" fill="#66ff33"/><polygon points="484.4,107.0 483.7,109.7 480.1,109.7 478.5,106.6 481.5,105.0 484.4,105.8" fill="#66ff33"/><polygon points="497.8,103.0 495.8,104.1 494.0,105.3 491.0,103.8 491.9,101.6 493.6,101.3 495.6,100.6 497.5,101.1" fill="#66ff33"/><polygon points="488.4,103.8 487.1,104.6 485.9,104.3 485.2,103.4 486.3,102.3 487.2,103.0" fill="#66ff33"/><polygon points="500.6,102.3 499.8,104.1 497.3,104.7 495.6,103.0 496.9,100.3 498.8,98.9 500.5,101.0" fill="#66ff33"/><polygon points="484.5,103.2 483.2,104.0 481.6,103.3 482.5,102.1 484.4,101.3" fill="#66ff33"/><polygon points="487.8,109.0 483.7,111.0 480.4,108.8 482.5,107.0 484.9,105.8" fill="#66ff33"/><polygon points="497.2,104.8 495.7,105.4 494.5,104.9 493.7,104.1 494.9,103.3 497.5,102.9" fill="#66ff33"/><polygon points="490.3,105.2 488.2,106.6 487.2,106.3 486.0,105.0 487.6,103.4 489.5,104.1" fill="#66ff33"/><polygon points="486.7,113.5 484.6,114.8 483.6,114.9 481.9,114.5 481.6,112.4 483.4,111.9 484.7,111.0 485.2,112.0" fill="#66ff33"/><polygon points="486.1,109.2 484.4,111.3 482.2,110.9 481.2,109.5 481.2,107.7 482.6,106.2 484.7,108.1" fill="#66ff33"/><polygon points="485.0,111.7 484.7,113.0 483.1,112.2 482.7,111.1 484.0,110.5 485.4,111.0" fill="#66ff33"/><polygon points="500.4,109.1 499.6,110.0 498.2,109.5 497.5,108.6 498.7,107.6 499.9,108.2" fill="#66ff33"/><polygon points="475.8,99.0 474.8,99.7 475.5,100.9 474.2,101.5 472.8,102.0 471.4,101.4 470.6,100.6 468.1,101.2 468.5,99.8 468.7,99.0 469.2,98.3 469.4,97.6 469.8,96.5 471.2,95.9 472.6,96.6 474.2,96.5 474.1,97.8 475.3,98.2" fill="#66ff33"/><polygon points="471.6,97.9 471.5,99.0 469.2,98.9 468.2,97.7 469.3,96.9 470.2,96.5 472.0,96.8" fill="#66ff33"/><polygon points="476.6,103.1 474.6,105.3 472.9,104.0 470.6,102.4 473.1,101.3 475.7,101.1" fill="#66ff33"/><polygon points="478.5,97.7 478.0,98.2 476.0,98.2 475.7,97.1 477.4,96.2 478.5,96.1" fill="#66ff33"/><polygon points="474.3,96.8 471.6,99.1 470.1,97.8 467.4,97.0 468.0,95.8 469.3,94.8 471.3,94.2 473.2,94.7" fill="#66ff33"/><polygon points="471.4,96.0 469.3,97.5 467.7,97.3 466.2,95.1 468.3,94.3 470.1,94.3" fill="#66ff33"/><polygon points="473.6,98.3 471.0,100.2 468.9,98.8 469.3,95.9 472.4,96.2" fill="#66ff33"/><polygon points="473.3,101.2 471.9,102.9 469.1,101.6 470.4,100.0 472.4,100.3" fill="#66ff33"/><polygon points="470.6,101.8 468.1,102.6 466.7,101.7 466.7,100.6 469.5,99.7" fill="#66ff33"/><polygon points="471.9,98.2 470.0,100.2 466.9,99.0 468.1,96.4 471.0,96.0" fill="#66ff33"/><polygon points="470.8,95.7 469.1,97.4 467.6,97.4 466.6,95.5 465.3,93.5 468.3,93.4 470.5,94.1" fill="#66ff33"/><polygon points="473.9,98.1 472.7,98.8 471.7,98.1 470.4,97.4 472.2,96.1 473.6,96.7" fill="#66ff33"/><polygon points="515.2,80.7 513.8,82.2 511.4,81.9 510.4,80.1 511.8,78.7 514.0,79.5" fill="#66ff33"/><polygon points="517.2,85.1 515.4,85.6 513.2,85.4 513.4,84.1 513.5,82.4 516.1,82.8" fill="#66ff33"/><polygon points="522.8,84.8 521.3,86.4 519.3,85.3 518.5,83.8 520.0,82.6 522.1,83.0" fill="#66ff33"/><polygon points="514.4,86.3 512.7,87.1 511.7,86.4 511.8,84.8 513.8,84.7" fill="#66ff33"/><polygon points="512.4,81.0 512.1,82.2 509.3,83.6 507.9,80.9 508.0,78.6 510.6,78.2 513.3,78.8" fill="#66ff33"/><polygon points="526.5,87.1 525.7,87.8 524.3,87.4 522.8,87.1 523.5,85.8 524.8,85.7 526.3,85.8" fill="#66ff33"/><polygon points="575.1,69.5 573.4,70.1 572.3,70.1 571.2,69.7 571.4,68.3 573.3,68.1 574.7,68.2" fill="#66ff33"/><polygon points="570.3,69.3 569.5,70.0 568.5,70.4 567.2,69.5 567.7,68.3 568.9,68.3 569.8,68.6" fill="#66ff33"/><polygon points="584.9,76.8 582.9,77.8 582.2,78.2 580.8,77.1 579.4,76.1 581.4,75.2 582.5,74.3 584.1,75.1" fill="#66ff33"/><polygon points="591.1,89.3 588.7,90.4 586.3,89.7 587.4,88.2 589.5,88.2" fill="#66ff33"/><polygon points="592.3,87.1 591.7,88.3 589.4,87.9 587.8,87.1 587.9,85.7 590.6,85.6 591.3,85.9" fill="#66ff33"/><polygon points="588.2,85.0 586.4,86.2 584.4,86.3 583.0,85.2 583.5,84.1 585.5,83.4 586.5,84.0" fill="#66ff33"/><polygon points="588.2,87.9 587.5,89.4 585.8,89.4 584.9,88.5 585.1,87.3 585.6,85.9 587.1,86.7 587.5,86.9" fill="#66ff33"/><polygon points="615.6,104.1 612.5,107.3 610.5,105.6 610.9,101.6 614.1,102.6" fill="#66ff33"/><polygon points="601.5,100.4 600.3,101.7 597.5,102.0 597.4,99.8 598.6,99.1 600.2,99.1" fill="#66ff33"/><polygon points="601.9,102.0 600.7,104.2 597.8,103.9 597.5,101.6 598.5,100.1 600.3,100.9" fill="#66ff33"/><polygon points="607.7,92.2 605.2,93.5 603.2,94.7 601.6,93.3 600.6,91.2 602.5,89.7 604.5,88.9 605.9,90.6" fill="#66ff33"/><polygon points="608.7,93.7 605.9,94.7 604.3,94.4 603.7,93.2 605.7,91.7 607.7,91.8" fill="#66ff33"/><polygon points="595.9,104.8 594.6,105.5 593.8,105.1 593.1,105.0 593.1,103.5 594.4,103.3 595.1,103.8" fill="#66ff33"/><polygon points="614.7,95.3 613.8,96.0 612.1,96.1 610.6,95.2 612.1,94.2 613.6,92.9 614.9,94.1" fill="#66ff33"/><polygon points="605.0,90.0 604.3,91.4 602.8,90.7 601.8,90.0 602.1,88.9 603.7,88.4 604.6,88.9" fill="#66ff33"/><polygon points="538.1,157.2 536.6,158.1 534.3,157.0 533.4,155.1 535.3,154.1 537.1,154.1" fill="#66ff33"/><polygon points="525.5,162.6 524.2,163.8 522.5,163.1 521.7,161.7 523.0,160.0 525.6,161.4" fill="#66ff33"/><polygon points="528.8,162.4 527.1,163.3 524.4,164.0 523.3,162.1 524.2,160.5 526.1,159.7 529.1,160.7" fill="#66ff33"/><polygon points="514.0,240.8 513.8,241.9 511.8,242.1 511.6,241.0 511.0,240.4 511.8,239.6 512.7,239.5 513.8,240.1" fill="#66ff33"/><polygon points="514.8,238.4 513.5,241.2 511.9,240.3 510.0,238.9 511.6,237.2 513.4,236.4 514.8,236.7" fill="#66ff33"/><polygon points="574.7,241.1 572.4,242.6 569.8,241.3 570.5,239.4 573.6,238.8" fill="#66ff33"/><polygon points="577.0,243.0 576.0,244.2 574.6,244.9 572.6,243.9 572.7,242.3 574.0,240.8 575.4,241.4 576.7,242.4" fill="#66ff33"/><polygon points="629.8,214.2 627.5,215.2 625.6,215.5 625.3,213.7 624.7,211.7 626.6,211.1 628.4,212.7" fill="#66ff33"/><polygon points="629.3,217.5 628.3,218.4 627.1,218.7 626.7,217.2 626.9,216.3 627.8,215.5 629.3,216.3" fill="#66ff33"/><polygon points="650.1,223.5 648.2,224.3 646.7,223.8 645.2,223.1 647.3,221.8 649.0,222.5" fill="#66ff33"/><polygon points="650.9,225.8 648.6,227.0 647.1,226.1 645.8,225.8 645.9,224.3 646.4,223.0 648.2,222.8 649.9,223.0" fill="#66ff33"/><polygon points="648.1,219.8 646.8,219.8 645.8,220.3 645.0,220.1 644.8,218.6 645.5,218.2 646.6,218.2 647.8,218.7" fill="#66ff33"/><polygon points="635.9,219.0 633.8,219.4 632.6,220.3 629.9,219.2 630.7,217.3 632.0,215.8 634.6,215.1 635.0,216.6" fill="#66ff33"/><polygon points="650.2,208.0 649.1,209.7 645.6,207.8 646.7,204.9 650.3,205.6" fill="#66ff33"/><polygon points="630.5,224.0 628.2,225.6 626.1,224.1 626.1,221.7 629.1,222.7" fill="#66ff33"/><polygon points="633.2,217.4 631.9,219.5 629.7,218.1 629.1,216.8 631.4,214.5 633.4,214.3" fill="#66ff33"/><polygon points="650.7,217.1 649.9,218.2 647.1,217.6 645.7,218.0 646.3,215.5 646.7,213.8 648.8,213.7 649.9,215.6" fill="#66ff33"/><polygon points="586.4,255.8 585.0,256.2 584.1,256.7 582.7,256.4 583.1,254.7 583.5,253.8 584.5,253.5 585.7,254.7" fill="#66ff33"/><polygon points="579.3,249.7 577.9,250.0 576.6,250.4 574.4,250.5 573.7,248.8 576.0,247.6 577.4,247.5 579.6,248.1" fill="#66ff33"/><polygon points="578.9,250.5 578.0,251.2 577.1,251.1 576.2,250.6 576.1,249.6 576.4,249.1 577.9,248.7 578.3,249.4" fill="#66ff33"/><polygon points="500.6,306.1 500.0,306.5 498.6,307.4 497.8,306.6 497.5,304.8 497.9,303.9 500.0,304.3 500.8,304.4" fill="#66ff33"/><polygon points="499.0,305.7 498.8,307.5 496.3,307.7 495.0,305.6 495.6,304.0 497.1,303.9 498.6,304.7" fill="#66ff33"/><polygon points="499.1,304.9 498.3,305.8 496.7,305.8 495.6,305.6 496.0,304.3 496.7,303.6 497.4,303.3 498.9,303.8" fill="#66ff33"/><polygon points="503.9,303.3 502.9,304.9 500.0,303.7 501.3,301.9 503.2,302.2" fill="#66ff33"/><polygon points="501.0,302.8 499.7,304.6 496.6,304.4 496.7,303.1 496.3,301.5 499.1,299.5 501.0,300.5" fill="#66ff33"/><polygon points="497.8,303.2 496.6,303.9 494.5,303.6 495.3,301.4 497.0,301.3" fill="#66ff33"/><polygon points="465.8,339.3 464.7,340.1 463.8,340.0 463.4,339.5 463.5,338.5 464.4,338.3 465.5,338.7" fill="#66ff33"/><polygon points="468.4,342.2 467.2,343.2 464.8,343.0 464.3,341.6 466.1,340.9 468.1,340.8" fill="#66ff33"/><polygon points="468.6,342.0 467.1,343.6 464.5,343.1 464.7,341.0 466.3,340.7 467.4,341.1" fill="#66ff33"/><polygon points="467.7,342.4 466.4,344.0 464.4,344.5 462.3,342.5 463.0,340.4 465.7,340.1 467.0,341.1" fill="#66ff33"/><polygon points="545.5,302.3 544.5,304.2 541.6,302.9 541.4,302.0 543.2,300.6 544.5,300.6" fill="#66ff33"/><polygon points="542.6,300.2 540.3,301.9 537.4,300.8 538.7,298.1 541.3,298.7" fill="#66ff33"/><polygon points="480.0,335.2 478.9,336.6 476.7,335.6 476.1,334.2 476.4,332.6 479.1,333.7" fill="#66ff33"/><polygon points="540.3,322.0 539.4,323.0 538.5,322.7 538.5,321.5 538.9,320.7 540.0,321.2" fill="#66ff33"/><polygon points="251.5,303.5 250.9,304.9 250.1,304.7 249.0,303.6 249.6,302.3 250.5,301.7 251.7,302.2" fill="#66ff33"/><polygon points="251.1,303.9 250.5,304.6 249.3,304.7 248.8,303.9 248.5,302.8 249.6,302.9 251.1,303.3" fill="#66ff33"/><polygon points="256.2,298.1 255.0,299.1 253.2,299.9 252.6,298.2 253.5,297.1 254.6,296.7 255.4,297.2" fill="#66ff33"/><polygon points="253.1,301.1 251.7,302.7 249.1,301.5 249.6,299.4 251.9,299.4" fill="#66ff33"/><polygon points="237.3,314.8 236.5,315.9 235.6,315.0 234.7,314.6 235.6,314.0 236.5,313.5 237.5,313.7" fill="#66ff33"/><polygon points="240.4,312.6 239.1,313.8 236.8,313.6 235.5,313.2 236.6,310.8 238.2,310.1 240.6,311.2" fill="#66ff33"/><polygon points="244.8,315.9 242.3,316.0 240.6,316.8 239.8,315.4 238.2,313.8 239.2,312.2 242.1,312.6 243.8,313.1" fill="#66ff33"/><polygon points="326.9,214.7 326.2,215.5 323.8,215.1 323.3,213.5 324.8,211.6 327.5,212.4" fill="#66ff33"/><polygon points="328.3,216.2 326.9,217.4 325.5,217.3 325.0,216.0 326.3,214.5 327.2,215.4" fill="#66ff33"/><polygon points="328.8,211.9 327.1,212.8 325.0,212.5 325.3,210.7 326.1,209.5 328.2,209.7" fill="#66ff33"/><polygon points="322.2,211.9 320.9,212.9 319.6,213.2 318.9,212.1 318.4,210.9 320.0,210.7 322.2,210.7" fill="#66ff33"/><polygon points="327.5,218.7 326.7,220.3 323.3,219.3 323.3,217.6 325.0,215.1 327.0,217.0" fill="#66ff33"/><polygon points="327.0,220.0 325.1,220.1 323.3,220.6 321.5,220.0 321.5,217.7 322.3,217.1 324.1,217.0 326.5,217.6" fill="#66ff33"/><polygon points="181.6,434.8 180.7,436.3 178.7,435.9 177.5,434.1 179.9,433.0 181.0,433.6" fill="#66ff33"/><polygon points="177.3,435.7 176.1,436.2 173.9,436.5 172.4,435.9 172.8,433.6 175.5,433.2 176.9,434.2" fill="#66ff33"/><polygon points="180.4,428.9 177.9,429.8 176.1,429.3 174.9,427.4 176.8,426.9 179.0,426.5" fill="#66ff33"/><polygon points="179.5,428.5 178.2,429.2 175.6,429.4 174.5,428.0 175.5,426.7 176.8,425.8 179.6,426.6" fill="#66ff33"/><polygon points="173.2,436.9 172.4,437.7 170.1,437.0 171.0,434.6 173.4,435.0" fill="#66ff33"/><polygon points="164.4,448.8 163.0,451.0 160.7,449.7 162.0,447.1 164.2,446.7" fill="#66ff33"/><polygon points="166.9,452.0 165.3,453.6 162.3,454.2 161.9,452.1 160.9,450.2 164.4,449.3 165.5,450.7" fill="#66ff33"/><polygon points="162.5,448.8 160.0,451.3 157.8,449.6 157.8,446.2 162.0,447.0" fill="#66ff33"/><polygon points="564.8,266.9 562.9,268.5 560.2,268.0 560.4,266.4 561.7,265.4 564.9,265.0" fill="#66ff33"/><polygon points="562.0,264.5 560.5,265.1 559.2,265.6 559.1,264.5 559.3,263.6 560.0,263.4 561.0,263.7" fill="#66ff33"/><polygon points="608.7,251.0 607.3,252.3 605.6,252.6 604.3,252.0 603.9,250.1 605.4,248.9 606.6,249.4 608.3,249.3" fill="#66ff33"/><polygon points="602.0,245.8 600.9,245.9 599.7,246.5 599.2,245.8 598.5,245.1 599.4,243.9 600.5,244.1 601.8,244.4" fill="#66ff33"/><polygon points="616.1,248.8 615.3,250.1 613.7,249.6 611.9,249.9 611.6,247.5 613.1,246.6 614.2,245.7 616.6,246.7" fill="#66ff33"/><polygon points="604.2,255.5 603.9,256.7 601.0,256.4 600.3,254.2 602.3,254.0 604.4,253.3" fill="#66ff33"/><polygon points="637.0,226.4 634.5,227.5 631.6,226.7 631.0,225.3 633.3,223.7 636.3,223.6" fill="#66ff33"/><polygon points="646.7,220.9 645.5,222.2 643.1,221.9 642.5,220.3 644.6,218.8 646.1,219.7" fill="#66ff33"/><polygon points="638.3,227.5 638.1,229.7 635.9,228.5 634.7,227.6 634.7,225.5 636.7,224.9 639.8,225.8" fill="#66ff33"/><polygon points="454.4,141.7 453.0,142.6 451.8,141.9 450.7,141.4 449.1,140.2 450.9,138.5 452.1,139.3 453.1,139.6" fill="#66ff33"/><polygon points="512.9,82.5 512.3,83.6 510.9,83.4 510.3,82.7 509.9,82.1 510.9,81.2 512.4,80.5 513.4,81.5" fill="#66ff33"/><polygon points="517.1,80.9 515.2,81.9 513.3,81.2 514.7,79.7 516.6,79.4" fill="#66ff33"/><polygon points="544.4,65.1 543.0,65.5 542.1,65.0 542.0,64.1 543.3,64.0" fill="#66ff33"/><polygon points="552.9,60.5 551.3,61.9 549.4,62.4 548.9,60.6 549.1,59.8 550.4,59.3 552.1,59.1" fill="#66ff33"/><polygon points="616.7,253.7 615.0,254.8 613.5,256.1 612.1,253.8 612.3,251.8 614.8,251.9 615.8,252.4" fill="#66ff33"/><polygon points="620.2,256.2 618.3,257.3 616.9,256.8 615.5,256.2 615.2,254.6 617.8,254.4 619.8,254.5" fill="#66ff33"/><polygon points="567.3,290.1 566.3,291.2 564.8,290.8 565.3,289.7 565.9,289.1 566.6,289.3" fill="#66ff33"/><polygon points="566.2,291.3 565.0,292.0 563.4,291.2 562.9,289.2 566.4,289.5" fill="#66ff33"/><polygon points="508.1,233.0 507.6,234.2 506.3,233.9 505.0,233.6 505.5,232.7 505.8,231.3 507.2,231.5 508.6,232.2" fill="#66ff33"/><polygon points="509.0,234.1 506.6,234.5 504.7,234.0 505.7,232.0 508.2,231.3" fill="#66ff33"/><polygon points="171.2,350.9 169.6,351.8 168.4,352.0 167.6,350.1 169.4,349.0 170.2,349.8" fill="#66ff33"/><polygon points="196.7,344.9 195.6,346.0 194.3,345.6 194.2,344.5 195.0,344.1 195.8,344.0" fill="#66ff33"/><polygon points="526.7,285.0 525.4,285.6 524.2,286.0 523.9,285.0 524.1,284.3 525.0,283.9 526.3,284.5" fill="#66ff33"/><polygon points="475.6,371.2 474.4,373.0 473.5,372.8 472.1,371.8 470.5,369.6 472.9,369.7 473.9,369.4 476.4,369.9" fill="#66ff33"/><polygon points="282.8,279.0 282.1,285.3 277.0,284.7 275.4,285.1 274.0,286.7 270.5,294.8 267.6,291.0 267.6,284.0 269.0,279.0 265.5,272.4 271.0,273.3 271.8,269.2 274.0,272.5 277.9,261.5 278.4,270.7 282.0,272.8" fill="#66ff33"/><polygon points="317.6,251.0 313.8,253.1 314.5,256.4 307.5,257.0 301.5,258.3 294.6,257.9 296.4,253.1 287.2,253.4 292.5,251.0 292.0,249.4 294.1,247.9 294.5,244.0 301.5,248.1 305.9,246.6 307.0,248.7 318.5,248.1" fill="#66ff33"/><polygon points="394.9,165.0 395.6,167.7 393.3,169.3 391.9,172.0 389.0,170.0 386.9,170.0 383.8,170.2 382.4,167.7 380.7,165.0 384.5,163.1 383.3,159.3 386.2,158.2 389.0,158.6 391.1,160.0 393.5,160.5 392.2,163.7" fill="#66ff33"/><polygon points="383.1,186.5 383.8,188.2 382.3,189.0 381.1,189.3 380.0,193.2 377.6,192.8 376.0,190.9 376.6,188.0 373.8,186.5 373.7,183.7 376.0,182.1 378.6,182.8 380.0,180.6 381.8,181.9 382.8,183.5 383.1,185.1" fill="#66ff33"/><polygon points="405.6,157.5 404.6,158.8 404.5,160.5 402.3,159.4 401.5,159.8 400.3,160.3 400.3,158.7 399.3,158.4 398.4,157.5 398.8,156.4 398.5,154.5 400.3,154.5 401.5,154.1 402.7,154.5 404.2,154.8 403.9,156.5" fill="#66ff33"/><polygon points="585.7,150.0 591.2,152.4 588.3,153.9 584.0,152.5 582.5,152.6 580.7,152.9 577.3,153.5 578.7,151.0 579.1,150.0 576.6,148.4 580.2,148.5 580.6,147.0 582.5,146.2 584.2,147.2 584.8,148.5 587.0,148.8" fill="#66ff33"/><polygon points="577.4,169.0 577.4,170.3 577.0,171.8 575.8,172.4 574.5,172.5 573.7,171.1 570.9,173.0 570.1,171.0 570.7,169.0 572.7,168.2 572.5,166.8 572.4,163.5 574.5,164.9 575.5,166.2 578.1,165.0 579.4,166.7" fill="#66ff33"/><polygon points="621.6,160.5 624.0,163.0 622.6,165.3 618.4,164.2 616.5,165.8 613.0,167.1 609.8,165.8 608.1,163.3 607.4,160.5 609.9,158.3 613.2,157.9 614.9,157.4 616.5,152.0 620.7,152.5 624.5,154.2 620.9,159.1" fill="#66ff33"/><polygon points="621.0,182.5 613.9,184.4 613.7,186.8 610.0,187.2 607.0,192.3 601.4,191.3 596.6,189.3 598.0,185.0 591.1,182.5 599.2,180.4 598.6,177.0 602.0,174.7 607.0,177.2 610.7,176.6 611.7,179.4 620.2,178.9" fill="#66ff33"/><polygon points="571.9,192.5 571.3,194.1 571.0,196.0 570.3,199.2 567.5,199.8 565.0,198.6 561.4,198.6 560.1,195.6 562.9,192.5 561.4,190.0 564.5,189.5 565.7,188.1 567.5,188.3 568.9,189.1 571.4,188.6 575.7,189.1" fill="#66ff33"/><polygon points="599.9,127.5 596.0,129.0 595.8,130.8 595.2,133.9 592.5,134.1 591.2,130.6 589.8,130.2 586.2,130.1 585.5,127.5 589.0,126.1 586.8,121.8 590.7,123.1 592.5,120.5 595.0,121.4 596.3,123.7 601.0,124.0" fill="#66ff33"/><polygon points="627.7,197.5 627.3,199.8 626.3,202.2 624.4,205.4 620.0,207.0 615.9,205.0 613.7,202.2 610.4,200.5 610.3,197.5 608.5,193.9 611.2,190.9 615.9,190.1 620.0,192.9 623.5,191.2 625.7,193.2 625.8,195.7" fill="#66ff33"/><polygon points="566.5,136.0 563.6,137.4 564.5,140.4 562.3,140.7 560.5,140.7 558.3,141.7 556.4,140.4 554.1,138.9 553.5,136.0 554.9,133.5 558.0,133.2 558.4,130.5 560.5,130.9 563.1,129.2 563.6,132.6 564.2,134.3" fill="#66ff33"/><polygon points="630.9,137.5 633.2,139.9 632.2,142.2 629.5,142.3 627.5,141.4 625.1,143.3 624.9,140.1 623.5,139.2 621.5,137.5 622.5,135.4 623.0,133.0 625.0,131.4 627.5,131.8 629.1,133.7 629.9,135.1 633.8,134.9" fill="#66ff33"/><polygon points="286.4,270.8 285.8,271.8 284.8,272.0 284.4,270.7 284.6,270.3 285.4,269.7 285.9,270.3" fill="#66ff33"/><polygon points="276.9,292.0 276.0,292.7 275.3,291.9 275.5,291.1 276.7,291.0" fill="#66ff33"/><polygon points="267.9,279.7 267.1,280.2 266.7,280.7 266.1,280.2 265.7,279.2 266.6,279.1 267.2,278.9 267.8,279.3" fill="#66ff33"/><polygon points="284.1,278.4 283.5,279.2 282.8,278.9 282.6,278.0 283.1,277.6 284.2,277.4" fill="#66ff33"/><polygon points="281.6,269.7 279.9,269.8 278.6,269.8 278.2,269.3 278.0,267.9 279.4,267.5 280.8,267.7" fill="#66ff33"/><polygon points="277.0,272.6 275.3,273.0 273.6,272.2 273.7,270.2 275.5,270.4" fill="#66ff33"/><polygon points="319.9,258.9 318.9,259.6 317.3,259.5 317.8,257.8 319.3,258.2" fill="#66ff33"/><polygon points="286.7,261.0 286.2,261.4 284.9,261.4 285.3,260.2 286.4,260.1" fill="#66ff33"/><polygon points="303.9,243.3 303.5,243.6 302.7,244.0 301.7,243.8 302.0,242.7 302.2,242.1 303.5,241.6 304.8,242.4" fill="#66ff33"/><polygon points="292.7,250.8 292.2,251.7 291.4,251.1 290.9,250.7 291.5,249.8 292.5,250.2" fill="#66ff33"/><polygon points="293.6,261.1 292.1,262.1 291.1,261.6 290.7,260.3 291.2,259.6 293.3,259.7" fill="#66ff33"/><polygon points="297.6,260.3 297.0,261.5 295.3,261.1 294.9,259.9 295.3,259.0 296.9,259.8" fill="#66ff33"/><polygon points="382.3,173.5 381.7,173.8 381.2,174.0 380.6,173.5 380.3,172.8 380.8,172.5 381.9,172.1 382.1,172.9" fill="#66ff33"/><polygon points="380.3,168.0 379.8,168.4 379.2,168.6 378.7,168.0 379.0,167.6 379.5,167.5 380.3,167.5" fill="#66ff33"/><polygon points="400.0,166.2 399.2,166.9 397.6,167.4 396.3,167.4 397.2,166.2 397.5,165.0 398.5,165.1 399.7,165.4" fill="#66ff33"/><polygon points="387.8,156.3 386.2,157.6 385.5,156.7 385.7,155.1 387.0,154.9" fill="#66ff33"/><polygon points="400.4,173.3 398.5,174.4 397.0,173.7 397.6,172.4 399.7,171.9" fill="#66ff33"/><polygon points="396.7,163.8 396.1,164.9 394.6,165.4 392.7,163.9 394.2,162.9 395.5,162.1 396.7,163.1" fill="#66ff33"/><polygon points="372.4,191.0 371.8,191.7 371.1,191.3 370.5,190.6 371.3,190.2 372.4,190.1" fill="#66ff33"/><polygon points="373.2,182.4 372.1,182.6 370.6,183.8 368.8,182.3 370.3,180.5 371.6,180.5 372.4,181.1" fill="#66ff33"/><polygon points="380.5,190.2 379.4,190.8 378.4,190.3 378.6,189.4 379.9,188.7" fill="#66ff33"/><polygon points="389.3,189.9 388.4,190.6 387.5,190.1 387.3,189.4 388.0,188.7 388.7,189.1" fill="#66ff33"/><polygon points="379.0,178.0 377.5,178.6 376.4,179.2 375.5,177.9 376.1,177.0 377.4,176.3 379.3,176.8" fill="#66ff33"/><polygon points="390.6,181.9 389.4,182.6 388.4,182.2 388.6,180.5 390.5,180.8" fill="#66ff33"/><polygon points="404.5,153.9 403.4,155.0 401.4,154.6 402.0,153.5 402.8,152.2 403.8,153.1" fill="#66ff33"/><polygon points="395.8,163.8 395.6,164.2 394.9,164.5 394.4,163.8 394.2,163.1 394.9,162.8 395.3,162.7 396.4,162.8" fill="#66ff33"/><polygon points="409.9,161.9 408.9,162.7 407.9,162.9 407.3,162.3 407.5,161.0 408.3,160.3 409.3,161.3" fill="#66ff33"/><polygon points="398.7,163.7 397.3,164.2 396.7,164.0 396.3,163.5 395.7,162.4 397.5,162.0 398.5,162.8" fill="#66ff33"/><polygon points="407.6,157.7 407.3,158.2 406.7,158.5 406.3,157.9 406.1,157.4 406.6,157.1 407.1,156.9 407.5,157.3" fill="#66ff33"/><polygon points="401.7,155.3 400.9,155.7 400.0,155.9 399.0,155.1 399.7,153.9 400.4,153.6 401.6,153.9" fill="#66ff33"/><polygon points="592.6,155.0 591.7,155.5 590.4,155.2 590.7,154.5 591.0,153.5 592.2,154.0" fill="#66ff33"/><polygon points="588.9,156.3 588.4,156.9 587.3,157.0 586.2,156.2 586.5,155.7 587.7,154.9 588.9,155.6" fill="#66ff33"/><polygon points="594.0,149.2 593.6,150.2 592.9,150.0 592.5,149.6 592.3,149.1 592.8,148.7 593.7,148.4 594.0,149.0" fill="#66ff33"/><polygon points="585.4,146.4 584.4,146.9 583.0,147.6 582.5,145.4 583.7,144.6 584.9,145.2" fill="#66ff33"/><polygon points="577.3,143.7 577.1,144.7 575.7,144.2 574.7,144.0 574.4,143.2 575.7,142.8 576.7,142.3 577.4,142.9" fill="#66ff33"/><polygon points="594.3,142.1 592.1,143.2 590.6,142.6 590.9,140.8 593.0,140.7" fill="#66ff33"/><polygon points="574.9,163.8 574.5,164.3 573.4,163.9 572.2,163.6 572.6,163.0 572.8,162.4 573.6,162.5 574.5,162.6" fill="#66ff33"/><polygon points="575.5,161.0 574.0,162.1 573.0,161.7 572.6,160.4 573.8,159.8 574.9,159.9" fill="#66ff33"/><polygon points="578.4,170.3 577.1,171.2 576.1,170.2 576.4,168.9 578.1,168.2" fill="#66ff33"/><polygon points="582.5,174.5 582.0,174.8 581.4,174.9 580.9,174.5 581.2,173.6 581.8,173.6 582.1,173.9" fill="#66ff33"/><polygon points="576.9,176.1 575.7,176.8 574.2,176.7 572.9,175.2 574.5,174.6 576.6,175.0" fill="#66ff33"/><polygon points="567.7,167.6 567.0,168.5 566.2,169.2 564.8,168.1 565.0,166.7 565.3,166.3 566.4,165.3 567.2,166.7" fill="#66ff33"/><polygon points="611.7,160.9 610.8,161.7 610.0,161.6 609.4,161.1 609.7,160.2 610.4,159.7 611.1,160.1" fill="#66ff33"/><polygon points="618.1,158.5 617.6,159.1 616.5,158.9 616.3,158.2 616.9,157.7 617.8,157.9" fill="#66ff33"/><polygon points="618.5,164.3 617.5,165.2 616.5,164.8 616.7,164.1 616.8,163.5 617.7,163.8" fill="#66ff33"/><polygon points="611.1,165.1 610.7,165.9 609.5,166.0 609.4,165.0 609.3,164.2 610.2,164.2 610.7,164.5" fill="#66ff33"/><polygon points="610.3,153.5 609.2,154.6 608.5,154.5 607.0,154.0 607.7,152.2 609.1,151.9 609.8,152.8" fill="#66ff33"/><polygon points="625.8,168.3 625.4,168.8 624.7,168.5 624.3,168.2 624.4,167.7 624.9,167.5 625.8,167.8" fill="#66ff33"/><polygon points="621.0,188.9 619.8,189.4 618.9,188.5 619.3,187.6 620.5,187.7" fill="#66ff33"/><polygon points="596.9,182.8 595.9,182.9 595.3,182.9 594.7,182.5 594.9,181.8 596.0,181.4 596.7,182.1" fill="#66ff33"/><polygon points="616.2,187.0 615.4,187.7 614.9,187.7 614.3,187.2 614.1,186.5 614.2,185.6 615.2,185.8 615.7,186.4" fill="#66ff33"/><polygon points="600.8,181.7 599.9,182.0 599.2,181.9 598.5,181.6 598.9,180.8 599.6,180.9 600.2,181.0" fill="#66ff33"/><polygon points="620.0,176.9 618.3,178.3 617.1,176.9 616.5,176.2 617.9,175.0 619.9,175.1" fill="#66ff33"/><polygon points="605.8,174.5 605.6,175.0 604.8,175.3 604.1,174.9 604.0,174.1 604.6,174.0 605.1,173.7 605.6,174.1" fill="#66ff33"/><polygon points="581.4,196.3 578.9,197.6 577.8,196.3 577.7,194.7 580.3,194.9" fill="#66ff33"/><polygon points="558.2,192.1 557.9,193.0 557.2,192.7 556.3,192.3 556.8,191.8 556.7,191.2 557.5,190.9 558.2,191.6" fill="#66ff33"/><polygon points="563.7,192.7 563.3,193.8 561.6,193.2 561.1,192.4 562.0,191.6 563.8,191.0" fill="#66ff33"/><polygon points="577.6,182.4 576.4,182.9 575.0,183.6 574.0,181.8 576.1,181.1 577.2,180.7" fill="#66ff33"/><polygon points="561.4,196.7 560.0,198.0 557.9,197.4 558.0,196.2 558.9,194.6 560.3,195.2" fill="#66ff33"/><polygon points="573.9,193.9 573.6,194.5 572.1,194.3 572.0,193.6 572.8,192.8 573.8,193.0" fill="#66ff33"/><polygon points="597.7,136.5 597.0,137.2 595.6,136.8 595.5,135.2 597.6,135.5" fill="#66ff33"/><polygon points="597.9,137.6 597.4,138.2 596.8,137.8 596.2,137.3 596.3,136.8 597.3,136.2 598.1,136.9" fill="#66ff33"/><polygon points="586.0,124.6 585.2,125.1 584.4,125.0 584.4,124.4 584.7,124.0 585.5,124.2" fill="#66ff33"/><polygon points="598.7,133.7 597.6,135.0 596.6,134.0 595.8,133.1 597.4,132.2 598.4,132.6" fill="#66ff33"/><polygon points="604.7,133.3 604.2,134.5 602.6,134.1 601.1,133.0 603.2,132.0 604.4,132.6" fill="#66ff33"/><polygon points="585.2,125.1 584.6,126.6 583.2,125.0 583.5,124.0 585.7,123.3" fill="#66ff33"/><polygon points="618.5,202.0 617.0,203.2 614.8,202.7 615.5,200.5 617.0,201.0" fill="#66ff33"/><polygon points="624.4,202.2 624.4,202.8 623.5,202.5 622.9,201.9 623.3,201.6 623.8,201.2 624.5,201.3" fill="#66ff33"/><polygon points="629.4,191.3 628.8,192.4 627.2,191.7 626.3,190.8 628.0,189.6 629.0,190.3" fill="#66ff33"/><polygon points="623.7,195.9 622.2,196.4 620.3,196.1 620.7,195.0 621.0,193.8 623.5,194.2" fill="#66ff33"/><polygon points="614.2,197.6 613.5,198.0 612.6,198.5 612.0,198.1 611.1,196.6 612.0,196.2 613.6,196.3 615.2,196.6" fill="#66ff33"/><polygon points="616.2,191.0 616.0,191.8 615.1,191.4 614.5,190.5 615.3,190.3 616.3,189.9" fill="#66ff33"/><polygon points="555.4,146.0 555.5,146.9 554.1,146.6 553.3,146.1 554.0,145.2 554.4,145.0 556.1,144.9" fill="#66ff33"/><polygon points="566.8,128.7 566.6,129.1 565.1,129.1 564.9,128.4 564.4,127.4 565.6,127.4 567.1,127.7" fill="#66ff33"/><polygon points="556.9,134.1 556.3,134.4 555.8,134.2 555.7,133.4 556.6,133.2" fill="#66ff33"/><polygon points="554.3,145.7 552.6,146.0 550.7,145.4 552.0,144.0 553.4,143.5" fill="#66ff33"/><polygon points="563.2,140.1 562.9,140.8 562.0,140.4 561.6,139.9 561.9,139.5 562.5,139.1 563.3,139.4" fill="#66ff33"/><polygon points="568.7,137.5 568.1,138.4 566.9,138.5 566.2,137.6 566.4,136.9 567.0,135.8 568.0,135.8 569.3,136.0" fill="#66ff33"/><polygon points="626.3,148.6 624.9,149.4 623.7,148.8 623.2,148.1 622.3,146.9 624.2,146.9 625.1,147.3" fill="#66ff33"/><polygon points="630.5,131.5 630.3,132.1 629.5,132.0 629.1,131.6 629.3,130.8 630.2,130.5 631.1,130.8" fill="#66ff33"/><polygon points="635.9,137.6 634.2,138.1 632.9,137.7 633.5,136.3 634.8,136.1" fill="#66ff33"/><polygon points="625.4,140.2 624.4,140.9 622.5,140.3 623.1,139.1 625.1,138.5" fill="#66ff33"/><polygon points="619.4,142.0 618.1,142.8 617.4,142.4 617.2,141.5 617.5,140.6 618.6,141.1" fill="#66ff33"/><polygon points="623.9,127.5 623.7,129.0 621.8,128.7 620.5,128.6 621.3,127.0 620.9,126.0 623.1,126.7 623.8,127.2" fill="#66ff33"/></g>
<g id="redp"><polygon points="237.7,209.2 236.7,209.7 235.7,209.1 236.3,208.6 237.0,208.6" fill="#ff1a1a"/><polygon points="242.5,217.8 241.3,218.1 239.8,218.0 239.3,217.2 240.4,216.3 242.3,216.5" fill="#ff1a1a"/><polygon points="239.4,216.3 239.0,216.6 238.2,217.2 237.6,216.3 237.4,215.9 237.7,215.2 238.5,214.8 239.8,215.4" fill="#ff1a1a"/><polygon points="242.3,212.7 241.9,213.0 241.1,213.3 240.2,212.6 240.3,211.9 241.4,211.8 242.0,212.1" fill="#ff1a1a"/><polygon points="233.0,208.9 232.5,210.8 231.7,210.6 230.1,209.7 229.9,208.2 231.1,207.2 232.4,207.9 233.3,208.4" fill="#ff1a1a"/><polygon points="242.4,215.7 241.6,216.9 240.5,216.7 239.0,216.3 239.4,215.2 239.6,214.3 240.9,214.5 242.4,215.1" fill="#ff1a1a"/><polygon points="240.4,215.4 239.5,216.3 238.6,215.9 237.7,215.9 237.1,215.2 238.2,214.4 238.8,214.4 239.9,214.6" fill="#ff1a1a"/><polygon points="231.5,212.6 230.8,213.3 230.1,213.3 229.2,212.6 229.9,211.7 230.6,211.6 231.0,212.0" fill="#ff1a1a"/><polygon points="314.0,209.9 313.7,210.3 313.0,210.5 312.0,210.2 312.3,209.4 312.2,208.7 313.3,208.6 314.2,209.0" fill="#ff1a1a"/><polygon points="308.9,213.0 308.2,213.9 307.1,213.2 307.0,211.7 308.6,212.1" fill="#ff1a1a"/><polygon points="312.7,214.1 311.6,214.2 309.9,214.2 310.4,213.2 311.0,212.8 312.4,212.7" fill="#ff1a1a"/><polygon points="306.5,206.2 305.7,207.8 304.6,207.0 303.6,206.0 304.1,205.3 305.5,204.2 306.8,205.0" fill="#ff1a1a"/><polygon points="308.2,210.0 307.0,211.2 305.3,210.5 305.4,209.6 305.3,208.6 305.9,207.5 308.1,208.1" fill="#ff1a1a"/><polygon points="301.4,209.1 300.8,210.5 299.5,210.2 298.6,208.9 299.0,208.0 300.5,207.3 301.8,207.8" fill="#ff1a1a"/><polygon points="389.6,105.6 388.7,106.4 387.7,106.0 388.3,104.8 389.4,104.7" fill="#ff1a1a"/><polygon points="394.0,106.1 393.6,107.4 392.6,106.8 391.7,106.6 391.6,105.7 391.9,104.5 393.6,104.4 394.0,105.7" fill="#ff1a1a"/><polygon points="392.9,102.4 392.2,103.4 390.7,103.3 390.3,102.1 389.8,101.6 391.5,101.0 392.9,101.5" fill="#ff1a1a"/><polygon points="389.8,109.0 389.0,109.7 387.7,109.8 387.1,108.8 388.5,107.9 389.4,108.3" fill="#ff1a1a"/><polygon points="332.7,594.7 332.3,594.9 331.4,595.2 330.5,594.8 330.6,594.0 331.3,593.9 331.7,593.4 332.8,593.8" fill="#ff1a1a"/><polygon points="338.0,563.6 336.8,564.6 335.5,564.2 335.8,563.3 336.4,562.5 337.5,562.6" fill="#ff1a1a"/><polygon points="335.8,581.9 335.2,582.2 334.8,582.1 334.8,581.8 335.0,581.5 335.7,581.4" fill="#ff1a1a"/><polygon points="316.7,568.2 316.0,568.4 315.1,568.8 315.1,568.2 315.2,567.6 315.9,567.1 316.2,567.5" fill="#ff1a1a"/><polygon points="313.5,559.3 312.5,559.8 311.6,559.3 312.0,558.4 313.0,558.5" fill="#ff1a1a"/><polygon points="323.8,585.8 322.2,586.4 320.8,586.7 320.8,585.7 320.5,584.9 321.8,584.2 323.0,585.0" fill="#ff1a1a"/><polygon points="329.4,593.5 328.5,594.1 327.6,594.0 326.9,593.0 327.4,592.4 328.3,592.1 329.2,592.5" fill="#ff1a1a"/><polygon points="326.0,581.4 325.4,581.5 325.1,581.7 324.4,581.6 324.4,580.8 324.9,580.7 325.4,580.3 325.6,580.8" fill="#ff1a1a"/><polygon points="330.3,576.5 330.0,576.9 329.1,576.8 327.9,576.7 328.0,576.1 329.0,575.5 330.1,574.8 330.3,575.6" fill="#ff1a1a"/><polygon points="333.7,559.3 332.9,559.4 332.5,559.3 332.7,558.7 333.1,558.7" fill="#ff1a1a"/><polygon points="317.0,579.6 316.1,580.0 315.5,579.8 314.4,579.7 314.6,578.8 315.0,578.7 316.2,578.5 317.0,579.0" fill="#ff1a1a"/><polygon points="316.0,593.0 315.3,593.4 314.1,593.0 313.9,592.5 314.4,592.0 315.5,591.8" fill="#ff1a1a"/><polygon points="337.0,562.8 336.7,563.1 335.7,563.3 335.3,562.4 336.1,562.2 336.8,562.4" fill="#ff1a1a"/><polygon points="333.0,581.8 332.6,582.2 331.9,582.4 331.7,582.2 331.3,581.4 331.9,581.3 332.6,581.2 333.1,581.3" fill="#ff1a1a"/><polygon points="320.5,572.2 319.8,572.8 319.4,572.8 318.7,572.8 319.0,572.1 319.0,571.4 319.6,571.3 320.1,571.8" fill="#ff1a1a"/><polygon points="331.1,591.4 330.1,592.0 328.9,591.7 329.1,590.6 330.5,590.7" fill="#ff1a1a"/><polygon points="337.3,595.1 336.6,595.6 335.6,594.9 335.6,594.2 337.1,594.2" fill="#ff1a1a"/><polygon points="326.1,560.5 324.6,561.4 323.3,560.7 324.1,559.7 325.3,558.9" fill="#ff1a1a"/><polygon points="379.6,457.6 378.3,458.6 377.7,458.3 376.8,457.4 376.9,456.8 377.8,456.2 379.0,456.3" fill="#ff1a1a"/><polygon points="376.2,458.7 375.5,459.4 374.8,459.2 374.4,458.3 375.0,458.1 375.7,458.3" fill="#ff1a1a"/><polygon points="481.0,393.5 479.7,394.2 478.8,393.5 478.8,392.1 480.3,392.3" fill="#ff1a1a"/><polygon points="483.5,391.8 482.8,392.5 481.6,392.2 481.6,391.8 481.8,391.1 482.5,391.0 483.2,390.7" fill="#ff1a1a"/><polygon points="480.2,393.2 479.4,394.2 478.4,393.6 478.5,392.0 479.7,392.5" fill="#ff1a1a"/><polygon points="409.6,487.9 408.8,489.3 407.2,489.1 405.5,487.9 406.5,486.2 407.4,485.4 409.5,486.5" fill="#ff1a1a"/><polygon points="407.0,487.9 406.0,488.5 404.8,488.2 404.5,486.9 405.8,486.6 406.9,486.7" fill="#ff1a1a"/><polygon points="409.2,483.8 406.5,484.8 405.0,485.3 404.4,482.6 405.9,481.3 408.6,481.8" fill="#ff1a1a"/><polygon points="406.0,487.7 404.9,489.3 402.2,489.2 401.0,487.4 401.5,486.1 404.1,486.1 405.4,486.3" fill="#ff1a1a"/><polygon points="394.4,478.6 393.4,479.3 392.0,478.6 392.3,477.1 393.5,477.6" fill="#ff1a1a"/><polygon points="395.3,478.6 394.3,479.3 393.2,479.3 392.8,479.0 392.3,478.0 393.2,477.9 394.0,477.8 394.8,478.1" fill="#ff1a1a"/><polygon points="469.9,397.1 469.4,397.6 468.7,397.6 468.7,397.0 469.2,396.7 469.7,396.9" fill="#ff1a1a"/><polygon points="466.8,394.8 466.4,395.0 465.3,395.0 465.3,394.3 465.7,393.7 466.9,393.9" fill="#ff1a1a"/><polygon points="459.2,392.3 458.7,393.1 458.0,392.7 457.3,392.6 457.2,391.9 457.7,391.4 458.5,391.4 459.2,391.5" fill="#ff1a1a"/><polygon points="464.9,393.3 464.4,394.6 462.7,393.9 462.7,393.1 463.5,392.4 464.2,392.7" fill="#ff1a1a"/><polygon points="531.7,121.9 531.5,122.5 530.6,122.1 529.7,122.2 530.2,121.6 530.3,120.7 531.0,121.1 531.7,121.0" fill="#ff1a1a"/><polygon points="534.9,97.1 534.5,97.9 533.6,97.3 534.0,96.6 534.9,96.4" fill="#ff1a1a"/><polygon points="532.0,107.5 531.3,108.4 530.5,108.3 529.3,107.7 530.2,107.0 530.9,106.5 532.1,106.9" fill="#ff1a1a"/><polygon points="535.9,108.0 535.6,108.4 535.0,108.8 534.6,108.1 534.7,107.5 535.1,107.0 535.8,107.6" fill="#ff1a1a"/><polygon points="534.7,102.5 533.9,103.1 532.9,102.7 532.0,102.0 532.7,101.4 533.5,101.4 534.7,101.5" fill="#ff1a1a"/><polygon points="536.3,109.3 534.9,110.1 533.6,109.5 534.3,108.5 535.2,108.1" fill="#ff1a1a"/><polygon points="534.6,114.1 533.8,114.5 533.3,114.0 533.2,113.3 534.1,113.4" fill="#ff1a1a"/><polygon points="534.3,125.0 534.4,125.8 533.3,126.0 532.1,125.3 532.2,124.9 533.0,123.9 533.8,124.1 534.5,124.6" fill="#ff1a1a"/><polygon points="164.5,389.9 164.2,390.1 163.7,390.2 163.2,389.6 163.8,389.0 164.4,389.4" fill="#ff1a1a"/><polygon points="185.1,371.1 184.3,371.9 182.8,371.1 183.1,370.2 184.5,370.0" fill="#ff1a1a"/><polygon points="178.7,384.6 178.4,385.5 177.7,385.5 177.3,385.0 177.0,384.2 177.5,384.1 178.3,383.6 178.6,384.3" fill="#ff1a1a"/><polygon points="159.7,367.6 158.9,368.2 158.0,367.9 158.1,367.2 158.4,366.6 159.5,366.8" fill="#ff1a1a"/><polygon points="171.7,387.3 170.8,388.2 170.3,388.2 169.5,387.8 169.2,387.2 170.2,386.6 170.8,386.2 171.2,386.8" fill="#ff1a1a"/><polygon points="176.4,378.7 175.7,379.3 174.9,379.2 174.1,379.0 173.7,378.2 174.7,377.7 175.2,377.4 175.8,378.2" fill="#ff1a1a"/><polygon points="187.6,385.0 187.1,385.5 186.6,385.1 186.4,384.7 186.8,384.1 187.5,384.1" fill="#ff1a1a"/><polygon points="189.9,366.6 189.2,367.0 188.4,366.6 188.8,365.8 189.7,365.9" fill="#ff1a1a"/><polygon points="156.5,381.9 155.8,382.2 155.3,382.2 155.5,381.4 156.3,381.4" fill="#ff1a1a"/><polygon points="167.7,379.1 167.4,379.4 166.9,379.6 166.6,379.2 166.6,378.8 166.9,378.6 167.5,378.4 167.7,378.7" fill="#ff1a1a"/><polygon points="184.9,322.9 184.4,323.7 183.5,323.3 183.5,322.4 183.7,321.8 184.9,321.8" fill="#ff1a1a"/><polygon points="188.1,320.3 187.6,320.9 186.8,320.6 186.8,320.1 187.2,319.6 187.8,319.7" fill="#ff1a1a"/><polygon points="186.5,339.0 185.9,339.4 185.2,339.6 185.0,339.1 184.6,338.5 185.0,338.1 185.9,338.4 186.0,338.5" fill="#ff1a1a"/><polygon points="200.1,305.9 199.5,306.2 199.0,306.0 199.3,305.5 199.9,305.2" fill="#ff1a1a"/><polygon points="219.2,317.1 218.6,317.8 217.8,317.6 218.1,317.1 218.2,316.5 219.0,316.7" fill="#ff1a1a"/><polygon points="209.4,308.8 209.1,309.4 208.4,309.5 208.0,308.9 207.8,308.6 208.2,308.4 208.5,307.9 209.0,308.5" fill="#ff1a1a"/><polygon points="145.5,468.8 145.1,469.2 144.9,469.0 144.6,468.6 144.9,468.3 145.3,468.5" fill="#ff1a1a"/><polygon points="159.1,443.2 158.5,443.5 157.8,443.1 158.0,442.7 158.7,442.5" fill="#ff1a1a"/><polygon points="133.5,445.6 133.1,446.3 132.0,446.1 132.2,445.4 132.6,444.9 133.3,445.0" fill="#ff1a1a"/><polygon points="145.9,435.0 145.4,435.3 144.4,435.3 144.3,434.3 144.8,433.8 145.7,434.0" fill="#ff1a1a"/><polygon points="138.7,449.4 137.8,450.1 137.1,450.1 136.9,449.7 136.4,449.1 137.0,448.4 137.8,448.3 138.0,449.1" fill="#ff1a1a"/><polygon points="146.4,462.6 145.8,463.3 145.1,463.0 144.6,462.3 145.5,461.5 146.1,461.9" fill="#ff1a1a"/><polygon points="135.3,475.4 135.1,475.7 134.4,475.6 133.9,475.0 134.5,474.6 135.2,474.9" fill="#ff1a1a"/><polygon points="175.6,445.5 175.1,445.9 174.4,445.8 174.3,445.2 174.6,445.0 175.1,445.0" fill="#ff1a1a"/><polygon points="216.0,568.7 215.5,569.0 214.9,569.0 214.0,569.0 214.0,568.1 214.5,567.5 215.6,567.8 216.5,568.0" fill="#ff1a1a"/><polygon points="201.6,556.0 201.0,556.3 200.2,556.8 199.3,556.0 199.9,554.9 200.6,555.1 201.6,554.8" fill="#ff1a1a"/><polygon points="238.8,578.7 238.5,579.1 237.8,579.2 237.5,578.8 237.0,578.2 237.4,577.8 238.4,577.8 238.7,578.1" fill="#ff1a1a"/><polygon points="221.4,575.5 221.0,576.0 220.6,576.2 219.9,575.7 219.8,575.1 220.3,575.0 220.9,574.8 221.1,575.2" fill="#ff1a1a"/><polygon points="214.2,562.0 212.9,562.9 212.0,562.4 211.5,561.8 211.7,561.2 212.3,560.4 213.7,561.0" fill="#ff1a1a"/><polygon points="450.1,341.7 449.3,342.1 448.6,342.2 448.4,341.5 448.8,341.0 449.9,340.8" fill="#ff1a1a"/><polygon points="462.4,353.2 462.0,353.5 461.5,353.5 461.1,353.3 460.8,352.9 461.3,352.5 461.9,352.3 462.3,352.6" fill="#ff1a1a"/><polygon points="478.3,360.8 477.8,361.3 477.3,361.2 476.9,360.8 477.0,360.4 477.6,360.3 478.1,360.5" fill="#ff1a1a"/><polygon points="459.6,365.1 459.3,365.8 458.8,365.5 458.2,365.1 458.6,364.8 458.9,364.6 459.4,364.8" fill="#ff1a1a"/><polygon points="460.8,369.1 460.5,369.6 460.0,369.4 459.7,369.2 459.7,368.7 460.1,368.6 460.8,368.6" fill="#ff1a1a"/><polygon points="482.0,367.9 481.3,368.2 480.7,368.1 480.2,367.8 480.7,367.5 481.3,367.1 481.8,367.1" fill="#ff1a1a"/><polygon points="602.1,184.4 600.9,185.3 599.7,184.7 600.3,183.9 601.8,183.2" fill="#ff1a1a"/><polygon points="594.4,149.2 593.7,149.6 593.1,149.4 593.1,148.9 593.3,148.5 593.9,148.7" fill="#ff1a1a"/><polygon points="565.7,158.6 565.3,158.8 564.7,159.1 564.6,158.7 564.0,158.2 564.6,157.7 565.4,157.8 565.5,158.1" fill="#ff1a1a"/><polygon points="583.0,145.8 582.4,146.3 581.4,146.0 581.9,145.5 582.9,145.2" fill="#ff1a1a"/><polygon points="541.3,134.5 540.2,135.9 538.7,135.1 538.7,134.1 540.1,133.3 541.5,133.6" fill="#ff1a1a"/><polygon points="557.0,139.7 556.2,140.5 554.8,140.3 554.7,139.4 555.3,138.3 556.4,138.8" fill="#ff1a1a"/><polygon points="563.3,206.6 562.9,207.2 562.2,207.0 562.1,206.7 562.2,206.0 562.6,205.9 563.1,206.3" fill="#ff1a1a"/><polygon points="552.8,181.7 552.2,182.3 551.9,182.5 551.0,182.1 550.8,181.5 551.4,181.0 552.3,180.9 553.3,181.1" fill="#ff1a1a"/><polygon points="582.5,177.4 581.7,178.1 580.0,177.4 580.6,176.3 582.5,176.0" fill="#ff1a1a"/><polygon points="578.8,113.1 578.3,113.4 577.6,113.3 577.0,113.0 577.2,112.1 578.0,112.1 578.7,112.2" fill="#ff1a1a"/><polygon points="589.9,204.2 588.8,204.6 588.4,204.5 587.0,204.4 587.6,203.8 587.5,202.7 588.6,203.0 589.6,202.9" fill="#ff1a1a"/><polygon points="580.0,186.1 579.4,186.6 578.6,186.3 578.1,185.4 578.9,185.1 579.5,185.3" fill="#ff1a1a"/><polygon points="603.1,165.9 602.6,166.2 602.1,166.5 601.5,166.0 601.2,165.5 601.8,165.0 602.4,164.7 603.0,165.2" fill="#ff1a1a"/><polygon points="572.6,124.2 572.0,124.7 571.5,125.1 570.7,124.7 570.3,123.9 570.9,123.4 571.9,123.4 572.4,123.7" fill="#ff1a1a"/><polygon points="600.8,271.9 600.1,272.3 599.5,272.5 598.9,272.3 598.7,271.4 599.1,270.9 600.1,270.5 600.3,271.4" fill="#ff1a1a"/><polygon points="594.8,277.9 594.6,278.3 594.1,278.5 593.6,278.1 593.2,277.6 593.7,277.3 594.3,276.9 594.7,277.4" fill="#ff1a1a"/><polygon points="565.8,282.3 566.1,282.9 565.0,282.9 564.1,282.4 564.1,282.0 564.7,281.5 565.3,281.5 565.9,281.7" fill="#ff1a1a"/><polygon points="572.2,285.3 571.6,285.9 570.3,285.1 570.6,284.3 571.7,284.6" fill="#ff1a1a"/><polygon points="583.9,278.4 582.8,279.0 581.7,278.5 581.9,277.4 583.0,277.4" fill="#ff1a1a"/><polygon points="599.2,281.7 598.5,282.2 597.6,282.2 597.6,281.5 598.0,280.8 598.6,281.1" fill="#ff1a1a"/><polygon points="402.2,349.9 401.7,350.5 401.4,350.5 400.7,350.4 400.2,349.5 400.7,349.1 401.6,348.8 402.3,349.1" fill="#ff1a1a"/><polygon points="380.7,357.7 380.4,358.2 379.5,358.3 379.3,357.7 379.5,357.3 380.0,357.1 380.4,357.5" fill="#ff1a1a"/><polygon points="410.5,339.9 410.0,340.3 409.2,340.6 409.2,339.9 409.1,338.8 409.7,338.8 410.6,339.3" fill="#ff1a1a"/><polygon points="413.2,348.3 412.5,349.1 411.6,348.7 411.5,348.2 412.2,347.8 412.8,347.9" fill="#ff1a1a"/><polygon points="318.6,137.6 317.8,138.0 317.3,137.5 317.4,137.1 318.2,136.9" fill="#ff1a1a"/><polygon points="320.1,137.3 319.9,137.7 319.5,137.7 319.1,137.4 318.9,137.1 319.1,136.6 319.8,136.5 320.2,136.7" fill="#ff1a1a"/><polygon points="318.1,137.2 316.4,138.0 315.1,138.1 315.0,136.9 315.7,135.5 316.9,136.2" fill="#ff1a1a"/><polygon points="318.4,143.9 317.2,145.2 315.9,144.3 316.7,143.3 318.4,142.4" fill="#ff1a1a"/><polygon points="319.0,143.9 318.4,144.3 317.8,144.0 317.5,143.3 318.1,143.2 318.6,143.3" fill="#ff1a1a"/><polygon points="318.1,142.8 317.6,143.2 317.1,143.0 316.9,142.8 316.7,142.4 317.0,142.2 317.3,142.2 318.1,142.2" fill="#ff1a1a"/><polygon points="362.0,184.6 361.3,184.9 360.4,184.4 360.7,183.8 361.6,183.6" fill="#ff1a1a"/><polygon points="358.1,181.0 357.5,181.5 356.6,182.0 356.4,181.1 356.7,180.6 357.1,180.5 357.8,180.6" fill="#ff1a1a"/><polygon points="352.5,180.8 351.5,181.7 350.9,181.4 349.8,180.5 350.7,179.5 352.5,180.1" fill="#ff1a1a"/><polygon points="359.8,183.2 359.2,183.9 358.3,183.8 357.6,183.6 358.2,182.8 359.0,182.0 359.9,182.3" fill="#ff1a1a"/><polygon points="363.2,183.4 362.9,184.2 361.5,184.4 360.2,183.2 361.3,182.6 362.4,182.2 363.1,182.2" fill="#ff1a1a"/><polygon points="362.5,185.7 362.1,186.3 361.7,185.9 361.6,185.2 362.4,185.4" fill="#ff1a1a"/><polygon points="621.9,160.7 621.7,161.4 620.5,161.3 619.7,160.6 620.0,159.9 621.3,159.3 622.0,159.9" fill="#ff1a1a"/><polygon points="616.1,190.5 615.5,191.0 614.9,190.5 614.5,189.9 615.1,189.5 615.8,189.8" fill="#ff1a1a"/><polygon points="633.3,198.8 632.8,199.1 631.9,199.3 631.4,198.9 631.5,198.3 631.8,198.0 632.8,197.7 632.8,198.1" fill="#ff1a1a"/><polygon points="622.8,192.2 622.3,192.5 622.0,192.6 621.7,192.3 621.6,191.9 622.0,191.6 622.3,191.7 623.0,191.9" fill="#ff1a1a"/><polygon points="642.9,187.3 642.7,187.7 642.4,187.5 642.0,187.3 642.0,187.1 641.9,186.7 642.5,186.5 643.0,186.8" fill="#ff1a1a"/><polygon points="638.2,182.6 637.4,183.2 636.5,182.8 636.4,182.0 636.7,181.0 638.2,181.6" fill="#ff1a1a"/><polygon points="629.9,189.0 629.1,189.1 628.2,189.4 627.7,189.3 628.0,188.3 628.4,187.7 628.9,188.0 629.7,187.9" fill="#ff1a1a"/><polygon points="601.3,185.0 601.0,185.5 600.2,185.1 600.0,184.6 600.2,184.2 601.0,184.3" fill="#ff1a1a"/><polygon points="607.6,180.7 607.4,181.2 606.8,181.1 606.5,180.8 606.7,180.4 606.9,179.9 607.4,180.0 607.9,180.3" fill="#ff1a1a"/><polygon points="614.3,191.1 613.4,191.5 612.5,191.4 612.8,190.3 614.0,190.4" fill="#ff1a1a"/><polygon points="632.4,201.1 631.4,201.9 630.0,201.9 630.2,200.8 631.0,199.9 632.1,200.0" fill="#ff1a1a"/><polygon points="601.2,191.9 600.6,192.3 599.7,192.2 599.8,191.7 600.0,190.9 600.7,191.2" fill="#ff1a1a"/><polygon points="615.0,166.2 614.9,166.7 614.0,166.5 613.8,165.8 614.2,165.4 615.0,165.7" fill="#ff1a1a"/><polygon points="628.0,185.3 627.4,186.0 626.4,186.0 626.1,185.4 626.0,184.5 626.9,184.3 627.9,184.7" fill="#ff1a1a"/><polygon points="639.8,183.3 639.0,183.8 638.1,184.3 637.3,183.5 636.8,182.5 637.9,182.0 638.6,181.7 639.1,182.5" fill="#ff1a1a"/><polygon points="626.3,172.7 626.0,173.4 625.2,173.1 624.5,173.0 624.9,172.4 625.3,171.8 626.3,172.2" fill="#ff1a1a"/><polygon points="625.9,169.0 625.1,170.1 623.5,170.1 623.5,169.1 623.5,168.3 624.3,167.2 625.8,168.1" fill="#ff1a1a"/><polygon points="614.2,188.0 613.8,188.3 613.1,188.2 612.9,187.5 613.2,187.0 614.5,187.3" fill="#ff1a1a"/><polygon points="612.1,224.3 610.5,225.1 608.8,224.7 609.6,222.9 611.1,222.8" fill="#ff1a1a"/><polygon points="612.5,221.6 612.2,222.4 610.4,222.1 611.1,220.7 612.3,220.8" fill="#ff1a1a"/><polygon points="608.5,230.3 607.7,231.4 606.9,231.1 606.1,230.6 606.0,229.7 607.2,229.5 607.9,230.0" fill="#ff1a1a"/><polygon points="603.3,227.8 602.7,228.7 601.3,228.5 601.0,227.7 602.0,227.0 603.5,226.6" fill="#ff1a1a"/><polygon points="609.3,231.5 608.0,232.0 607.0,231.9 606.1,231.7 605.8,230.9 607.0,230.3 607.8,230.3 608.7,230.4" fill="#ff1a1a"/><polygon points="610.0,229.4 609.5,230.0 608.9,230.0 607.9,229.5 608.2,228.9 609.4,228.1 610.4,228.8" fill="#ff1a1a"/><polygon points="612.6,102.0 611.4,103.0 610.6,102.4 610.6,101.3 611.9,101.1" fill="#ff1a1a"/><polygon points="602.1,106.0 601.2,106.3 600.3,105.9 600.1,105.4 600.6,104.6 601.6,104.8" fill="#ff1a1a"/><polygon points="603.3,99.2 602.7,99.9 602.2,99.7 601.9,99.3 602.0,99.0 602.4,98.7 602.9,98.9" fill="#ff1a1a"/><polygon points="607.7,95.9 607.2,96.2 606.5,96.3 605.6,96.2 605.8,95.5 606.2,95.0 606.7,95.0 607.3,95.2" fill="#ff1a1a"/><polygon points="600.8,103.3 600.8,103.8 600.2,103.6 599.9,103.4 599.8,103.2 600.2,102.9 600.7,102.7 601.0,102.9" fill="#ff1a1a"/><polygon points="607.5,96.6 607.1,97.1 605.7,97.3 605.1,96.3 605.3,95.7 606.6,94.9 607.1,95.6" fill="#ff1a1a"/><polygon points="566.1,204.0 565.9,204.5 564.9,204.6 564.6,204.2 564.3,203.5 564.8,203.2 565.5,202.9 565.9,203.5" fill="#ff1a1a"/><polygon points="562.7,201.5 562.0,202.0 561.0,202.5 560.3,201.7 560.9,200.8 561.7,200.2 562.8,200.5" fill="#ff1a1a"/><polygon points="560.9,204.6 561.0,205.5 559.4,205.2 558.6,204.7 559.2,203.6 559.8,203.4 561.3,204.1" fill="#ff1a1a"/><polygon points="571.4,208.6 570.5,209.2 569.5,210.1 569.2,208.8 568.2,208.4 569.2,207.5 570.7,207.1 571.5,207.6" fill="#ff1a1a"/><polygon points="574.9,205.1 574.1,205.5 573.3,205.1 572.4,204.5 573.4,204.0 574.8,204.1" fill="#ff1a1a"/><polygon points="572.5,203.8 571.3,204.5 569.6,203.8 570.7,202.5 571.9,202.8" fill="#ff1a1a"/><polygon points="299.1,255.8 298.6,256.0 297.9,255.8 298.4,255.3 299.1,255.1" fill="#ff1a1a"/><polygon points="300.0,261.9 299.0,262.3 298.4,262.4 298.2,261.8 298.7,261.4 299.5,261.4" fill="#ff1a1a"/><polygon points="306.7,255.2 306.0,255.8 304.9,255.2 305.5,254.3 306.5,254.5" fill="#ff1a1a"/><polygon points="308.5,260.2 308.0,260.7 307.4,260.7 307.5,260.1 307.8,259.6 308.2,259.8" fill="#ff1a1a"/><polygon points="297.9,261.1 296.8,262.4 295.9,261.6 294.7,260.7 295.6,260.0 296.5,259.9 297.0,260.1" fill="#ff1a1a"/><polygon points="300.7,258.0 300.2,259.1 299.6,258.8 298.8,258.2 298.9,257.7 298.7,257.1 300.1,256.9 301.0,257.5" fill="#ff1a1a"/><polygon points="637.2,165.2 636.5,165.9 635.8,165.8 635.1,165.7 635.2,165.0 635.7,164.4 636.5,164.6 637.1,164.5" fill="#ff1a1a"/><polygon points="640.2,162.8 639.2,163.6 637.7,163.1 638.1,162.0 640.3,161.5" fill="#ff1a1a"/><polygon points="640.7,176.5 640.2,177.4 638.4,177.0 638.2,176.1 639.5,175.2 640.3,175.9" fill="#ff1a1a"/><polygon points="639.8,163.7 639.3,164.5 638.6,164.3 638.2,164.0 637.7,163.2 638.4,162.7 639.2,162.3 639.6,163.1" fill="#ff1a1a"/><polygon points="640.8,178.7 639.5,179.5 638.4,179.5 637.6,178.2 639.2,177.5 640.2,177.7" fill="#ff1a1a"/><polygon points="642.2,173.3 641.9,174.3 640.2,174.0 639.9,173.5 639.4,172.5 639.4,171.8 641.1,172.1 641.4,172.6" fill="#ff1a1a"/><polygon points="423.9,414.1 423.1,414.9 422.4,414.3 422.4,413.4 423.3,413.5" fill="#ff1a1a"/><polygon points="420.1,413.7 419.5,414.2 419.2,414.7 418.5,413.9 418.3,413.5 418.5,412.9 419.7,412.8 420.2,413.1" fill="#ff1a1a"/><polygon points="428.6,412.0 427.5,413.0 426.2,412.6 425.8,411.7 426.6,410.7 428.2,410.8" fill="#ff1a1a"/><polygon points="420.3,415.4 420.0,415.8 419.3,415.7 418.6,415.3 418.9,414.8 419.7,414.0 420.3,414.7" fill="#ff1a1a"/><polygon points="419.6,415.3 418.2,416.0 417.3,415.5 417.7,414.4 418.7,414.6" fill="#ff1a1a"/><polygon points="423.0,415.4 422.7,415.8 422.2,416.1 421.7,415.7 421.5,415.2 421.8,414.8 422.3,414.8 422.9,414.9" fill="#ff1a1a"/><polygon points="436.7,421.6 436.3,422.0 435.4,422.4 435.3,421.8 434.9,421.3 435.4,420.8 436.3,420.6 436.9,421.2" fill="#ff1a1a"/><polygon points="436.9,429.4 436.0,429.8 434.8,429.6 434.5,428.9 434.7,428.3 435.4,427.9 436.2,428.6" fill="#ff1a1a"/><polygon points="431.8,425.4 431.4,425.9 430.7,425.7 430.6,425.3 430.7,425.0 431.2,424.7 431.9,424.9" fill="#ff1a1a"/><polygon points="431.6,429.3 431.3,429.5 430.8,429.5 430.2,429.4 430.3,428.9 430.5,428.5 431.0,428.7 431.4,428.8" fill="#ff1a1a"/><polygon points="431.6,420.4 431.3,421.0 430.5,420.6 430.3,420.3 430.5,419.6 431.3,420.0" fill="#ff1a1a"/><polygon points="438.8,420.3 438.6,421.2 437.6,421.3 437.3,420.5 437.3,419.8 437.6,419.2 438.5,419.2 438.9,419.8" fill="#ff1a1a"/><polygon points="451.0,412.9 450.4,413.3 449.6,413.0 449.9,412.4 450.5,412.4" fill="#ff1a1a"/><polygon points="448.7,413.1 448.3,413.8 447.1,414.2 446.0,413.5 446.3,412.6 446.8,412.1 447.8,412.1 448.4,412.4" fill="#ff1a1a"/><polygon points="449.5,414.2 447.6,415.1 446.6,414.3 447.1,413.2 448.6,413.2" fill="#ff1a1a"/><polygon points="454.6,411.1 454.1,411.8 452.9,411.9 452.1,411.3 451.9,410.2 452.7,409.7 453.5,409.4 454.4,410.0" fill="#ff1a1a"/><polygon points="449.8,409.4 449.2,410.4 447.8,410.1 447.6,409.0 448.4,408.6 449.6,408.9" fill="#ff1a1a"/><polygon points="454.1,407.5 453.5,408.2 452.6,407.8 452.1,407.7 452.4,406.9 453.4,406.4 453.8,406.7" fill="#ff1a1a"/><polygon points="427.4,434.7 427.2,435.2 426.4,434.8 426.1,434.3 426.8,434.0 427.1,434.2" fill="#ff1a1a"/><polygon points="431.5,434.6 430.3,435.5 428.3,435.2 428.4,434.3 429.3,433.1 430.1,433.7" fill="#ff1a1a"/><polygon points="432.5,439.3 431.8,439.6 431.1,439.4 431.1,439.0 431.6,438.4 432.3,438.7" fill="#ff1a1a"/><polygon points="433.7,439.1 432.9,439.8 432.3,439.4 432.2,438.0 433.6,438.1" fill="#ff1a1a"/><polygon points="429.6,434.4 429.1,434.5 428.5,434.5 427.8,434.0 428.1,433.4 428.9,433.4 429.1,433.6" fill="#ff1a1a"/><polygon points="429.7,432.8 428.8,434.1 428.0,433.3 426.9,432.1 427.8,431.2 429.4,431.6" fill="#ff1a1a"/><polygon points="412.3,438.7 411.5,439.4 410.7,439.7 410.6,438.8 410.4,437.7 411.2,437.5 412.5,438.1" fill="#ff1a1a"/><polygon points="417.9,441.5 417.8,442.1 417.1,442.1 416.7,441.6 416.4,441.0 416.9,440.6 417.6,440.5 417.9,440.9" fill="#ff1a1a"/><polygon points="414.9,445.5 414.2,445.9 413.7,445.8 414.0,445.2 414.8,445.0" fill="#ff1a1a"/><polygon points="413.0,442.5 412.4,443.3 411.0,443.0 410.2,442.5 410.9,441.8 411.5,441.6 412.4,441.5" fill="#ff1a1a"/><polygon points="416.7,442.2 415.6,442.9 414.6,442.7 413.4,441.5 414.9,440.9 416.0,441.4" fill="#ff1a1a"/><polygon points="416.8,443.6 416.2,443.9 415.7,444.2 415.3,443.9 415.0,443.3 415.7,443.0 416.1,443.2 416.5,443.4" fill="#ff1a1a"/><polygon points="346.5,552.6 345.6,552.9 345.1,552.5 345.2,552.0 345.8,552.0" fill="#ff1a1a"/><polygon points="352.9,543.7 352.1,545.1 350.1,544.6 350.1,543.2 351.3,542.7 352.1,543.1" fill="#ff1a1a"/><polygon points="345.0,550.5 344.1,551.3 343.0,551.0 342.4,550.5 343.2,549.5 343.7,549.3 344.9,549.1" fill="#ff1a1a"/><polygon points="350.7,549.8 350.2,550.5 349.5,550.3 349.0,549.4 349.8,549.0 350.6,549.3" fill="#ff1a1a"/><polygon points="354.9,546.2 353.5,547.2 352.4,545.9 352.6,544.7 353.8,544.5" fill="#ff1a1a"/><polygon points="351.4,544.4 351.4,545.0 350.5,544.9 350.0,544.4 350.4,544.0 350.9,543.6 351.6,543.8" fill="#ff1a1a"/><polygon points="350.7,502.3 350.5,503.1 349.1,502.6 348.7,502.3 348.5,501.3 349.7,500.8 350.3,501.7" fill="#ff1a1a"/><polygon points="346.8,504.0 346.4,504.6 345.3,504.8 345.4,504.0 345.5,503.5 346.1,502.8 346.9,503.4" fill="#ff1a1a"/><polygon points="347.3,507.7 346.6,508.2 345.7,508.8 345.3,507.9 345.0,507.4 345.0,506.7 346.4,506.0 347.3,506.7" fill="#ff1a1a"/><polygon points="352.3,505.0 351.8,505.1 351.1,505.6 350.4,505.0 350.6,504.4 351.0,504.2 351.7,504.2 352.2,504.3" fill="#ff1a1a"/><polygon points="345.8,502.8 345.1,503.2 344.4,502.9 344.4,502.2 345.6,502.2" fill="#ff1a1a"/><polygon points="351.7,506.6 351.2,506.8 350.6,507.5 349.6,506.8 349.4,506.0 350.1,505.5 351.0,505.2 351.7,505.5" fill="#ff1a1a"/><polygon points="439.2,445.0 438.4,445.5 437.2,445.2 437.9,444.6 438.7,444.4" fill="#ff1a1a"/><polygon points="442.9,444.1 442.3,445.0 441.1,444.4 441.5,443.5 442.5,443.5" fill="#ff1a1a"/><polygon points="443.0,441.1 443.1,441.5 442.0,441.6 441.8,441.0 442.1,440.4 442.7,440.4 443.1,440.7" fill="#ff1a1a"/><polygon points="443.8,445.0 443.5,445.4 443.3,445.3 442.8,445.4 442.7,444.9 443.1,444.4 443.5,444.5 444.0,444.7" fill="#ff1a1a"/><polygon points="439.0,442.0 438.5,442.5 437.7,442.1 437.0,441.6 437.8,440.8 438.6,441.2" fill="#ff1a1a"/><polygon points="439.0,444.3 438.8,444.9 438.0,445.1 437.4,444.6 437.2,443.9 437.9,443.5 438.5,443.1 439.1,443.8" fill="#ff1a1a"/><polygon points="458.1,426.1 457.3,426.7 456.8,426.4 456.6,425.6 456.7,425.0 458.0,425.3" fill="#ff1a1a"/><polygon points="460.5,428.7 459.7,429.3 458.2,428.8 458.7,427.7 460.2,427.7" fill="#ff1a1a"/><polygon points="457.1,431.8 456.5,432.0 455.9,432.2 455.7,431.7 455.5,431.0 456.2,431.0 457.0,431.1" fill="#ff1a1a"/><polygon points="458.0,425.9 457.0,426.8 456.3,426.8 455.1,425.9 454.9,425.3 455.7,424.8 457.0,424.1 457.6,424.7" fill="#ff1a1a"/><polygon points="459.2,425.5 458.9,425.7 458.4,425.7 457.8,425.5 458.1,424.9 458.7,424.9 459.0,425.0" fill="#ff1a1a"/><polygon points="462.0,432.6 461.5,433.1 461.0,432.9 460.5,432.5 460.8,432.3 461.3,431.9 461.6,432.4" fill="#ff1a1a"/><polygon points="604.8,191.8 604.3,192.5 603.0,192.3 601.9,190.9 603.2,190.7 604.5,190.7" fill="#ff1a1a"/><polygon points="602.2,196.5 601.6,197.0 601.0,196.5 601.0,196.2 602.0,195.9" fill="#ff1a1a"/><polygon points="602.9,197.4 602.9,197.8 602.2,197.7 601.9,197.5 601.9,197.0 602.0,196.5 602.5,196.5 603.3,196.8" fill="#ff1a1a"/><polygon points="605.1,195.8 604.0,196.8 602.7,195.9 603.0,195.0 605.2,194.7" fill="#ff1a1a"/><polygon points="607.1,194.0 606.6,194.7 605.6,194.1 606.0,193.3 606.8,193.3" fill="#ff1a1a"/><polygon points="605.0,194.8 604.2,195.1 603.6,194.9 603.5,194.1 604.5,194.1" fill="#ff1a1a"/><polygon points="622.5,175.8 621.5,176.4 620.5,176.3 620.1,175.1 621.0,175.0 622.0,175.0" fill="#ff1a1a"/><polygon points="622.5,174.2 622.0,174.6 620.9,174.4 620.1,173.6 621.3,172.4 622.3,172.6" fill="#ff1a1a"/><polygon points="620.0,174.3 619.6,174.5 618.9,174.6 618.7,174.1 619.4,173.7 619.8,174.0" fill="#ff1a1a"/><polygon points="619.4,173.9 618.5,174.1 617.3,174.5 616.9,173.5 617.3,172.8 618.0,172.4 619.4,172.7" fill="#ff1a1a"/><polygon points="621.9,174.6 621.2,174.8 620.6,174.9 620.2,174.1 621.0,173.6 621.5,173.9" fill="#ff1a1a"/><polygon points="621.0,173.4 620.2,173.8 619.6,173.4 619.5,172.8 620.5,172.7" fill="#ff1a1a"/><polygon points="428.9,432.5 427.6,435.9 424.0,436.9 421.5,436.7 418.7,440.3 415.1,439.3 417.1,434.1 414.6,432.5 414.5,429.6 415.7,426.5 419.5,428.1 422.4,424.3 424.9,427.0 428.0,428.9" fill="#ff1a1a"/><polygon points="431.3,445.5 429.5,447.5 427.9,449.0 425.3,448.5 423.7,448.4 421.9,448.1 419.0,447.7 419.4,445.5 421.2,444.2 420.4,441.3 423.4,441.7 426.0,440.0 427.9,442.0 429.7,443.4" fill="#ff1a1a"/><polygon points="435.2,426.5 436.4,428.4 434.6,428.8 433.7,429.9 432.5,429.1 431.4,428.9 431.4,427.4 430.8,426.5 430.9,425.3 431.0,423.6 432.6,424.6 433.4,424.5 434.8,423.8 435.2,425.2" fill="#ff1a1a"/><polygon points="451.1,423.0 446.4,424.0 447.0,426.1 445.5,428.5 442.6,428.2 441.3,425.9 439.3,424.9 439.4,423.0 441.6,422.1 442.1,421.0 443.2,420.0 445.6,417.3 446.2,420.7 447.6,421.5" fill="#ff1a1a"/><polygon points="459.6,428.0 459.7,429.8 458.4,431.1 456.6,430.7 455.4,430.8 454.9,429.4 452.0,429.9 453.0,428.0 453.6,426.8 454.5,426.1 455.2,424.7 456.5,425.8 457.8,425.8 457.9,427.1" fill="#ff1a1a"/><polygon points="461.4,410.0 462.2,411.9 460.8,412.8 459.5,412.5 458.0,415.7 457.8,411.9 456.2,411.7 456.3,410.0 457.3,409.0 457.3,407.3 458.3,406.1 459.9,405.1 460.6,407.5 461.7,408.4" fill="#ff1a1a"/><polygon points="412.7,448.5 411.5,450.0 410.3,450.7 409.0,450.6 407.6,452.2 405.8,451.8 406.5,449.5 404.5,448.5 406.1,447.4 406.7,446.2 408.1,447.0 409.0,446.3 409.9,446.8 410.4,447.6" fill="#ff1a1a"/><polygon points="415.4,458.5 415.4,460.4 413.0,460.4 412.4,462.3 411.0,460.8 409.5,461.0 409.6,459.4 407.3,458.5 408.8,457.2 409.5,456.0 410.6,454.7 412.2,455.5 413.3,456.2 414.8,456.9" fill="#ff1a1a"/><polygon points="432.6,413.0 432.6,414.2 431.6,414.6 430.8,414.6 430.2,414.8 428.6,415.9 428.4,414.2 429.4,413.0 429.2,412.2 429.1,410.8 430.0,410.5 431.2,409.3 432.4,410.2 431.6,412.4" fill="#ff1a1a"/><polygon points="424.4,422.0 424.5,424.2 422.6,425.3 421.1,426.8 419.3,424.9 417.6,425.0 416.4,423.8 415.6,422.0 416.3,420.2 417.2,418.5 419.4,419.2 421.0,417.7 422.3,419.1 424.5,419.8" fill="#ff1a1a"/></g>
<g id="depts"><polyline points="530.5,230.6 525.5,235.7 517.9,243.2 512.8,248.3 512.8,255.9 510.3,263.4 507.8,273.5 510.3,278.6 507.8,286.2 505.3,296.3 507.8,311.4 512.8,321.5 517.2,344.6" fill="none" stroke="#333" stroke-width="1.4" stroke-linejoin="round" stroke-linecap="round" /><polyline points="191.8,77.8 198.0,70.0 205.6,62.4 219.5,57.8 231.8,50.0 243.6,47.0 247.0,45.0 264.0,45.6 278.4,42.5 289.7,44.2 302.5,43.5 319.5,43.0 331.0,44.2 339.4,48.5 345.0,53.4 356.7,53.9 365.7,56.1 383.6,63.5 394.8,69.1 406.0,68.0 415.0,66.9 424.0,72.5 433.0,75.9 444.2,75.9 459.9,78.1 466.6,82.6 471.0,90.4 477.8,93.8 489.0,94.9 498.8,93.0 505.5,88.6 507.7,83.1 501.0,76.4 509.9,74.2 518.7,72.0 526.4,73.1 529.8,78.6 534.2,86.4 538.6,93.0 547.4,94.1 554.0,89.7 556.3,82.0 560.7,75.3 569.5,68.7 576.1,62.1 582.8,55.5 589.4,51.0 598.2,49.9 602.6,53.3 603.7,57.7 601.5,62.1 600.4,68.7 599.3,74.2 601.5,77.5 604.8,84.2 609.3,90.8 613.7,98.5 617.0,104.0 620.3,110.7 626.9,119.5 632.0,130.0 638.0,145.0 643.0,160.0 646.7,177.6 656.8,182.6 659.3,187.7 656.8,191.5 646.7,197.8 641.6,205.4 648.0,210.4 653.0,218.0 649.2,228.0 646.7,231.9 641.6,225.6 631.5,230.6 621.4,238.2 616.4,240.7 606.3,243.2 601.2,250.8 603.7,258.4 596.2,260.9 588.6,266.0 581.0,273.5 573.4,276.0 565.9,281.1 563.3,288.7 560.8,301.3 555.8,306.4 547.5,314.3 545.5,320.4 541.4,326.4 537.4,330.4 529.3,334.5 521.2,338.5 517.2,344.6 511.2,352.6 505.1,360.7 499.0,368.8 495.0,376.9 493.0,386.9 489.0,393.0 483.0,400.0 468.4,421.6 451.4,440.5 434.3,448.1 423.0,453.8 417.3,463.3 416.4,474.6 415.4,482.2 411.6,486.0 407.8,489.7 403.3,490.8 395.7,502.2 384.4,509.8 374.9,516.0 375.8,530.6 373.0,538.1 365.4,545.7 357.9,551.4 348.4,557.1 340.8,562.8 338.0,576.0 344.0,588.0 347.0,601.0 341.0,597.0 326.0,588.0 314.0,576.0 312.4,564.0 314.0,549.0 308.0,552.0 299.0,546.0 290.0,531.0 278.0,526.4 260.0,522.0 255.0,508.0 239.8,514.2 219.6,520.5 199.5,524.3 179.3,526.9 166.7,530.6 156.6,543.2 149.0,547.0 133.9,544.5 121.2,540.7 106.0,542.0 98.5,543.2 97.3,548.3 99.8,557.1 96.0,558.4 92.2,553.3 88.5,545.8 82.1,538.2 83.8,532.8 89.5,525.2 93.2,512.0 97.0,500.6 100.8,491.2 97.0,479.8 89.5,468.5 87.6,461.0 94.2,447.7 92.3,431.6 96.0,423.3 94.8,405.7 96.0,388.0 99.7,380.0 106.4,371.9 109.0,363.8 115.7,358.5 123.8,353.1 134.5,345.0 142.6,337.0 149.3,329.0 150.6,318.3 156.0,307.5 153.3,296.8 156.0,286.0 162.3,284.2 163.2,275.5 160.6,263.3 162.3,258.0 163.2,249.4 165.8,237.3 164.0,232.0 165.0,223.4 162.3,214.7 160.6,206.0 162.3,197.4 171.0,189.5 182.8,186.7 191.3,178.2 197.0,169.7 198.4,156.9 196.3,145.5 202.0,134.9 204.0,131.7 202.6,125.5 201.0,110.0 194.9,105.5 191.8,97.8 191.8,77.8" fill="none" stroke="#3c3c3c" stroke-width="0.9" stroke-linejoin="round" stroke-linecap="round" /><polyline points="254.0,67.0 268.4,70.5 286.9,72.6 292.6,69.8 304.0,64.0 315.3,64.8 328.0,68.4 336.6,72.6 343.7,78.3 360.0,81.0 374.7,75.9 390.4,75.9 397.0,73.6 403.8,69.1" fill="none" stroke="#3c3c3c" stroke-width="0.9" stroke-linejoin="round" stroke-linecap="round" /><polyline points="264.9,47.0 272.7,59.0 270.5,69.0" fill="none" stroke="#454545" stroke-width="0.8" stroke-linejoin="round" stroke-linecap="round" /><polyline points="366.6,81.2 364.3,93.5 377.8,98.0 382.3,104.8 389.0,103.6 398.0,94.7 404.7,83.5 407.0,74.5" fill="none" stroke="#454545" stroke-width="0.8" stroke-linejoin="round" stroke-linecap="round" /><polyline points="366.6,136.3 351.0,158.0 338.9,162.3" fill="none" stroke="#454545" stroke-width="0.8" stroke-linejoin="round" stroke-linecap="round" /><polyline points="351.0,158.0 361.4,175.3 371.8,185.7 377.0,203.1 364.9,215.2 370.1,222.2 372.0,228.0" fill="none" stroke="#454545" stroke-width="0.8" stroke-linejoin="round" stroke-linecap="round" /><polyline points="371.8,185.7 364.9,185.7" fill="none" stroke="#454545" stroke-width="0.8" stroke-linejoin="round" stroke-linecap="round" /><polyline points="413.0,140.0 410.0,152.8 406.5,170.1 403.1,180.5 404.8,190.9 397.9,203.1 389.2,213.5 384.0,222.2 382.0,228.0" fill="none" stroke="#454545" stroke-width="0.8" stroke-linejoin="round" stroke-linecap="round" /><polyline points="236.4,264.4 249.6,262.5 250.6,273.8 243.9,279.5 242.0,283.3" fill="none" stroke="#454545" stroke-width="0.8" stroke-linejoin="round" stroke-linecap="round" /><polyline points="242.0,283.3 259.0,281.4 262.9,289.0 270.4,296.5 275.0,305.0" fill="none" stroke="#454545" stroke-width="0.8" stroke-linejoin="round" stroke-linecap="round" /><polyline points="564.0,124.6 573.4,124.6 582.9,132.2 594.2,136.0 601.8,137.9 607.5,145.4 613.1,147.3 624.5,145.4 628.3,153.0 632.1,162.5" fill="none" stroke="#454545" stroke-width="0.8" stroke-linejoin="round" stroke-linecap="round" /><polyline points="556.4,149.2 560.1,137.9 564.0,130.3" fill="none" stroke="#454545" stroke-width="0.8" stroke-linejoin="round" stroke-linecap="round" /><polyline points="628.3,128.4 632.1,139.7 630.2,153.0 639.6,166.3 645.3,171.9" fill="none" stroke="#454545" stroke-width="0.8" stroke-linejoin="round" stroke-linecap="round" /><polyline points="344.5,78.9 330.7,92.8 320.6,103.5 305.4,109.2 292.8,115.5 284.0,124.3 276.4,128.7 281.5,135.7 292.8,136.9 305.4,134.4 310.5,130.6 313.0,135.7" fill="none" stroke="#454545" stroke-width="0.8" stroke-linejoin="round" stroke-linecap="round" /><polyline points="210.3,59.4 219.5,51.7" fill="none" stroke="#454545" stroke-width="0.8" stroke-linejoin="round" stroke-linecap="round" /><polyline points="222.6,48.6 241.0,51.7 250.2,54.8" fill="none" stroke="#454545" stroke-width="0.8" stroke-linejoin="round" stroke-linecap="round" /><polyline points="219.5,70.0 222.6,84.0 228.7,87.0 242.6,84.0 252.0,80.0" fill="none" stroke="#454545" stroke-width="0.8" stroke-linejoin="round" stroke-linecap="round" /><polyline points="222.6,85.5 224.0,99.4 213.3,107.0 201.0,108.6" fill="none" stroke="#454545" stroke-width="0.8" stroke-linejoin="round" stroke-linecap="round" /><polyline points="224.0,99.4 231.8,100.9 234.9,113.2 241.0,116.3 250.0,118.0" fill="none" stroke="#454545" stroke-width="0.8" stroke-linejoin="round" stroke-linecap="round" /><polyline points="174.4,193.9 172.7,204.3 177.9,209.5 188.3,206.0 197.0,204.3 202.2,202.6 212.0,200.0" fill="none" stroke="#454545" stroke-width="0.8" stroke-linejoin="round" stroke-linecap="round" /><polyline points="205.7,263.3 214.4,256.4 222.0,250.0" fill="none" stroke="#454545" stroke-width="0.8" stroke-linejoin="round" stroke-linecap="round" /><polyline points="224.0,244.4 235.5,234.9 246.8,225.5 254.4,216.0 262.0,212.2 267.7,208.4 269.5,200.8 273.3,193.3 281.0,189.5 290.0,187.6" fill="none" stroke="#454545" stroke-width="0.8" stroke-linejoin="round" stroke-linecap="round" /><polyline points="333.8,72.0 345.0,65.5 360.0,64.8" fill="none" stroke="#454545" stroke-width="0.8" stroke-linejoin="round" stroke-linecap="round" /><polyline points="246.7,118.5 249.5,125.6 260.9,128.5 262.3,138.4 269.4,139.8 272.3,148.4 272.3,152.6" fill="none" stroke="#454545" stroke-width="0.8" stroke-linejoin="round" stroke-linecap="round" /><polyline points="198.4,189.5 211.2,178.2 224.0,169.7 232.5,164.0 246.7,159.0 253.8,159.0 260.9,166.1 272.3,178.2 275.0,192.4 287.0,205.0 300.0,212.0" fill="none" stroke="#454545" stroke-width="0.8" stroke-linejoin="round" stroke-linecap="round" /><polyline points="261.2,130.0 261.2,139.0 270.2,139.0 272.4,142.3" fill="none" stroke="#454545" stroke-width="0.8" stroke-linejoin="round" stroke-linecap="round" /><polyline points="275.8,130.0 281.4,135.6 294.8,135.6 297.0,141.2 292.6,148.0 285.9,151.3" fill="none" stroke="#454545" stroke-width="0.8" stroke-linejoin="round" stroke-linecap="round" /><polyline points="300.4,132.2 309.4,131.1 311.7,134.5 306.0,141.2 306.0,144.6 312.8,146.8 315.0,153.5 320.6,154.7 326.2,153.5 328.5,162.5" fill="none" stroke="#454545" stroke-width="0.8" stroke-linejoin="round" stroke-linecap="round" /><polyline points="328.5,162.5 311.7,168.0 294.8,177.0 278.0,188.3 269.0,196.1 255.0,210.0" fill="none" stroke="#454545" stroke-width="0.8" stroke-linejoin="round" stroke-linecap="round" /><polyline points="251.0,158.0 272.4,195.0 285.0,215.0" fill="none" stroke="#454545" stroke-width="0.8" stroke-linejoin="round" stroke-linecap="round" /><polyline points="377.0,125.2 394.8,107.3 412.8,91.6 426.2,83.7" fill="none" stroke="#454545" stroke-width="0.8" stroke-linejoin="round" stroke-linecap="round" /><polyline points="412.8,147.6 426.2,136.4 437.4,125.2 444.2,111.7 450.9,102.8 457.6,99.4 462.0,98.7" fill="none" stroke="#454545" stroke-width="0.8" stroke-linejoin="round" stroke-linecap="round" /><polyline points="495.7,160.0 507.0,149.9 516.5,136.0 527.5,141.6 536.4,144.9 545.2,147.1 549.6,148.2" fill="none" stroke="#454545" stroke-width="0.8" stroke-linejoin="round" stroke-linecap="round" /><polyline points="516.8,136.3 512.6,149.8 508.3,154.0 498.4,168.2 491.3,178.2 485.6,188.1 480.0,197.8 470.0,206.5" fill="none" stroke="#454545" stroke-width="0.8" stroke-linejoin="round" stroke-linecap="round" /><polyline points="480.0,197.8 495.2,201.6 512.8,202.8 522.9,207.9 528.0,212.9 530.5,220.5 529.2,226.8 530.5,230.6 543.1,230.6 550.7,235.7 553.2,245.8 552.0,258.4 545.7,260.9 538.1,266.0 533.0,273.5 540.6,276.0 550.7,271.0 553.2,260.9" fill="none" stroke="#454545" stroke-width="0.8" stroke-linejoin="round" stroke-linecap="round" /><polyline points="530.5,230.6 525.5,235.7 517.9,243.2 512.8,248.3 512.8,255.9 510.3,263.4 507.8,273.5 510.3,278.6 507.8,286.2 505.3,296.3 507.8,311.4 512.8,321.5 517.2,344.6" fill="none" stroke="#454545" stroke-width="0.8" stroke-linejoin="round" stroke-linecap="round" /><polyline points="540.6,276.0 553.2,283.6 560.8,291.2" fill="none" stroke="#454545" stroke-width="0.8" stroke-linejoin="round" stroke-linecap="round" /><polyline points="480.0,197.8 464.0,214.4 450.7,230.5 432.0,242.6 410.5,252.0 370.0,260.0 335.4,270.7" fill="none" stroke="#454545" stroke-width="0.8" stroke-linejoin="round" stroke-linecap="round" /><polyline points="432.0,242.6 436.0,252.0 438.7,262.7 437.3,268.0 434.6,286.8 438.5,300.0 434.5,300.2 426.4,314.3 410.3,328.4 396.0,340.5 390.0,354.7" fill="none" stroke="#454545" stroke-width="0.8" stroke-linejoin="round" stroke-linecap="round" /><polyline points="370.2,227.8 371.6,238.5 363.5,244.0 373.0,262.7" fill="none" stroke="#454545" stroke-width="0.8" stroke-linejoin="round" stroke-linecap="round" /><polyline points="390.0,354.7 410.3,360.7 430.4,362.7 450.6,361.7 464.7,359.7 474.8,357.7 481.9,356.7 482.9,370.8 483.9,384.9 485.0,393.0" fill="none" stroke="#454545" stroke-width="0.8" stroke-linejoin="round" stroke-linecap="round" /><polyline points="390.0,354.7 386.0,364.7 382.0,374.8 384.0,384.9 388.0,397.0" fill="none" stroke="#454545" stroke-width="0.8" stroke-linejoin="round" stroke-linecap="round" /><polyline points="381.8,373.4 386.9,363.3 394.4,355.8 400.0,350.7" fill="none" stroke="#454545" stroke-width="0.8" stroke-linejoin="round" stroke-linecap="round" /><polyline points="381.8,373.4 380.6,386.1 384.3,398.7 385.6,411.3 388.1,416.4 386.0,432.0 383.0,444.0 380.0,450.0 365.0,462.0 368.0,453.0 362.0,438.0 344.0,429.0 341.0,420.0" fill="none" stroke="#454545" stroke-width="0.8" stroke-linejoin="round" stroke-linecap="round" /><polyline points="363.0,462.0 365.0,480.0 370.0,495.0" fill="none" stroke="#454545" stroke-width="0.8" stroke-linejoin="round" stroke-linecap="round" /><polyline points="380.0,450.0 386.0,444.0 380.0,432.0 383.0,420.0" fill="none" stroke="#454545" stroke-width="0.8" stroke-linejoin="round" stroke-linecap="round" /><polyline points="317.0,468.0 320.0,459.0 329.0,459.0 338.0,468.0 341.0,480.0 344.0,489.0 350.0,500.0" fill="none" stroke="#454545" stroke-width="0.8" stroke-linejoin="round" stroke-linecap="round" /><polyline points="314.0,507.0 315.4,534.0 314.0,549.0" fill="none" stroke="#454545" stroke-width="0.8" stroke-linejoin="round" stroke-linecap="round" /><polyline points="209.0,420.0 215.0,435.0 224.0,456.0 236.0,462.0 248.0,471.0 255.5,489.0 257.0,507.0 245.0,513.0" fill="none" stroke="#454545" stroke-width="0.8" stroke-linejoin="round" stroke-linecap="round" /><polyline points="221.0,426.0 218.0,444.0 212.0,456.0 218.0,471.0 212.0,489.0 212.0,513.0" fill="none" stroke="#454545" stroke-width="0.8" stroke-linejoin="round" stroke-linecap="round" /><polyline points="260.6,353.2 270.7,360.8 278.3,368.4 283.3,378.5 288.4,383.5 290.9,393.6 301.0,398.7 313.6,401.2 323.7,403.7 335.0,410.0 342.0,420.0" fill="none" stroke="#454545" stroke-width="0.8" stroke-linejoin="round" stroke-linecap="round" /><polyline points="331.3,398.7 336.4,381.0 341.4,373.4 350.0,362.0 360.0,350.0" fill="none" stroke="#454545" stroke-width="0.8" stroke-linejoin="round" stroke-linecap="round" /><polyline points="245.5,333.0 253.0,340.6 260.6,353.2" fill="none" stroke="#454545" stroke-width="0.8" stroke-linejoin="round" stroke-linecap="round" /><polyline points="161.3,284.7 156.0,291.4" fill="none" stroke="#454545" stroke-width="0.8" stroke-linejoin="round" stroke-linecap="round" /><polyline points="150.6,334.3 161.3,337.0 172.0,339.7 190.8,338.4 198.9,342.4 201.5,350.4 204.2,355.8 204.2,371.9 198.9,388.0 193.5,404.0 182.8,414.8 172.0,420.1 166.7,430.9 164.0,440.0 170.0,455.0 175.5,465.0 170.0,490.0 165.4,519.3 166.7,530.6" fill="none" stroke="#454545" stroke-width="0.8" stroke-linejoin="round" stroke-linecap="round" /><polyline points="177.4,298.2 188.1,302.2 209.6,310.2 238.0,323.6" fill="none" stroke="#454545" stroke-width="0.8" stroke-linejoin="round" stroke-linecap="round" /><polyline points="215.0,275.4 209.6,302.2" fill="none" stroke="#454545" stroke-width="0.8" stroke-linejoin="round" stroke-linecap="round" /><polyline points="204.2,355.8 215.0,350.4 225.7,337.0 238.0,329.0 245.5,333.0" fill="none" stroke="#454545" stroke-width="0.8" stroke-linejoin="round" stroke-linecap="round" /><polyline points="166.7,430.9 156.6,441.0 149.0,448.6 145.2,451.5 136.7,453.4 125.4,457.1 117.8,462.8 113.1,468.5 111.2,477.9 108.4,485.5 104.6,491.2 100.8,493.0" fill="none" stroke="#454545" stroke-width="0.8" stroke-linejoin="round" stroke-linecap="round" /><polyline points="204.2,371.9 215.0,380.0 235.0,392.0 250.0,405.0 262.0,418.0 275.0,430.0" fill="none" stroke="#454545" stroke-width="0.8" stroke-linejoin="round" stroke-linecap="round" /><polyline points="210.0,420.0 203.0,470.0 200.0,500.0 200.0,525.0" fill="none" stroke="#454545" stroke-width="0.8" stroke-linejoin="round" stroke-linecap="round" /><polyline points="235.0,392.0 228.0,410.0 221.0,426.0" fill="none" stroke="#454545" stroke-width="0.8" stroke-linejoin="round" stroke-linecap="round" /></g>
<polygon points="323,483.5 326,486.6 323,489.7 320,486.6" fill="#ff1a1a"/><polygon points="326.7,493 330,496.6 326.7,500.2 323.4,496.6" fill="#ff1a1a"/><circle cx="326.7" cy="496.6" r="1" fill="#fff"/>
<g id="roads"><polyline points="193.3,77.8 205.6,77.8 213.3,74.8 222.6,68.6 234.9,64.0 254.2,60.5 275.5,60.1 289.7,55.9 299.7,56.3 316.7,52.4 325.2,55.3 333.8,56.3 345.0,62.0 363.5,63.5 383.6,69.1 399.3,73.6 412.8,71.4 424.0,77.0 439.7,88.2 457.6,97.2 475.6,100.5 495.7,101.7 503.3,97.4 518.7,93.0 525.3,90.8 534.2,94.1 549.6,99.6 567.3,93.0 585.0,83.1 599.3,74.2" fill="none" stroke="#e2401c" stroke-width="1.5" stroke-linejoin="round" stroke-linecap="round" /><polyline points="205.6,79.4 211.8,94.7 210.3,116.3 208.7,140.9 205.6,162.4 208.7,187.0 212.7,189.5 214.6,197.0 217.5,202.7 221.3,210.3 222.2,219.8 220.3,225.5 218.4,234.9 217.5,246.3 216.5,259.5 216.5,274.7 217.5,286.0 215.0,295.0 212.3,302.0 209.6,310.2 207.0,323.6 204.2,337.0 201.5,350.4" fill="none" stroke="#e2401c" stroke-width="1.5" stroke-linejoin="round" stroke-linecap="round" /><polyline points="217.5,202.7 227.9,208.4 235.5,212.2 241.0,215.0 250.6,217.0 258.2,217.9 267.7,217.9 284.7,212.2 290.0,208.4 300.0,205.0 312.0,198.0 325.0,190.0 336.0,182.0 350.0,175.0 370.0,165.0 385.0,157.0 398.0,150.0 406.0,143.1 410.5,136.4 417.3,129.7 426.2,125.2 433.0,114.0 437.4,100.5 439.7,89.3" fill="none" stroke="#e2401c" stroke-width="1.5" stroke-linejoin="round" stroke-linecap="round" /><polyline points="141.2,349.1 145.2,350.4 164.0,351.8 185.5,354.5 198.9,353.6 201.5,350.4" fill="none" stroke="#e2401c" stroke-width="1.5" stroke-linejoin="round" stroke-linecap="round" /><polyline points="141.2,349.1 147.7,355.2 146.5,365.3 141.4,380.5 137.6,395.6 133.9,413.2 131.3,431.0 127.3,436.3 123.5,447.7 121.6,455.2 124.4,459.0 117.8,464.7 115.0,472.3 114.0,479.8 110.2,485.5 106.5,489.3 105.5,500.6 107.4,508.2 110.2,515.7 111.2,527.0 111.2,538.4 112.0,545.0" fill="none" stroke="#e2401c" stroke-width="1.5" stroke-linejoin="round" stroke-linecap="round" /><polyline points="200.0,299.0 212.6,300.2 225.3,307.8 232.8,315.4 241.7,324.2 250.5,330.5 259.3,336.8 275.8,341.9 290.9,344.4 303.5,348.2 313.6,350.7 317.4,358.3 321.2,363.3 331.3,370.9 346.5,376.0 359.0,378.5 369.2,383.5 376.8,391.1 381.8,398.7 386.9,411.3 389.4,416.4 395.0,413.8 406.0,416.0 417.0,418.2 428.1,423.7 433.6,428.1 439.2,437.0 446.9,441.4" fill="none" stroke="#e2401c" stroke-width="1.5" stroke-linejoin="round" stroke-linecap="round" /><polyline points="174.7,286.0 190.8,291.4 204.2,299.5 215.0,300.8 225.7,307.5" fill="none" stroke="#e2401c" stroke-width="1.5" stroke-linejoin="round" stroke-linecap="round" /><polyline points="304.8,350.7 303.5,360.8 299.7,370.9 296.0,383.5 294.7,396.2 294.7,406.3 297.2,416.4 301.0,426.5 306.0,436.6 308.0,448.0 312.4,462.0 315.4,480.0 318.4,492.0 323.0,507.0 325.5,531.0 326.7,545.2 325.5,559.4 324.3,573.6 325.5,587.8" fill="none" stroke="#e2401c" stroke-width="1.5" stroke-linejoin="round" stroke-linecap="round" /><polyline points="323.0,495.0 305.0,510.0 290.0,528.0" fill="none" stroke="#e2401c" stroke-width="1.5" stroke-linejoin="round" stroke-linecap="round" /><polyline points="320.0,492.0 335.0,495.0 344.0,498.0" fill="none" stroke="#e2401c" stroke-width="1.5" stroke-linejoin="round" stroke-linecap="round" /><polyline points="335.0,495.0 348.0,487.0 360.0,483.0 372.0,481.0" fill="none" stroke="#e2401c" stroke-width="1.5" stroke-linejoin="round" stroke-linecap="round" /><polyline points="599.3,74.2 585.0,83.1" fill="none" stroke="#e2401c" stroke-width="1.5" stroke-linejoin="round" stroke-linecap="round" /><polyline points="549.6,99.6 554.0,108.5 558.5,117.3 561.8,126.1 564.0,130.3 582.9,139.7 598.0,149.2 603.7,156.8 601.8,168.1 598.0,179.5 594.2,189.0 590.4,200.3 589.5,213.6 589.8,220.5 588.6,238.2 591.1,248.3 594.9,253.3 588.6,260.9 581.0,267.2 573.4,272.3 563.3,274.8 558.3,277.3 553.2,283.6 549.4,291.2 546.9,306.4 543.1,316.5 535.6,324.0 529.2,330.0 519.0,341.6 510.0,356.0 499.7,373.3 491.0,385.7 483.5,393.2 476.0,395.1 472.3,398.3 465.6,401.6 456.8,407.1 445.8,408.8 439.2,413.8 431.4,423.7 431.4,428.1 428.1,437.0 422.6,441.4 411.6,446.9 400.5,453.5 394.6,461.4 381.4,467.0 370.0,472.7 355.0,476.0" fill="none" stroke="#e2401c" stroke-width="1.5" stroke-linejoin="round" stroke-linecap="round" /><polyline points="594.9,253.3 603.7,259.6" fill="none" stroke="#e2401c" stroke-width="1.5" stroke-linejoin="round" stroke-linecap="round" /><polyline points="603.7,156.8 613.1,147.3 620.7,137.9 628.3,128.4" fill="none" stroke="#e2401c" stroke-width="1.5" stroke-linejoin="round" stroke-linecap="round" /><polyline points="531.0,94.0 534.0,106.0 537.0,124.0" fill="none" stroke="#e2401c" stroke-width="1.5" stroke-linejoin="round" stroke-linecap="round" /></g>
<g id="stations"><circle cx="207.9" cy="73.9" r="117" fill="none" stroke="#111" stroke-width="1.1" stroke-dasharray="11 9"/><circle cx="207.9" cy="73.9" r="117" fill="none" stroke="#7a7a7a" stroke-width="3.2" stroke-dasharray="7 13" stroke-dashoffset="-12"/><circle cx="207.9" cy="73.9" r="117" fill="none" stroke="#fff" stroke-width="1.8" stroke-dasharray="5.6 14.4" stroke-dashoffset="-12.7"/><circle cx="178.5" cy="238" r="117" fill="none" stroke="#222" stroke-width="0.9"/><circle cx="178.5" cy="238" r="117" fill="none" stroke="#000" stroke-width="3.8" stroke-linecap="round" stroke-dasharray="0 15.6" stroke-dashoffset="-5.9"/><circle cx="602.4" cy="176.5" r="116.8" fill="none" stroke="#222" stroke-width="0.9"/><circle cx="602.4" cy="176.5" r="116.8" fill="none" stroke="#000" stroke-width="3.8" stroke-linecap="round" stroke-dasharray="0 15.47" stroke-dashoffset="-8.2"/><circle cx="308" cy="359" r="116.5" fill="none" stroke="#111" stroke-width="1.1" stroke-dasharray="11 9"/><circle cx="308" cy="359" r="116.5" fill="none" stroke="#7a7a7a" stroke-width="3.2" stroke-dasharray="7 13" stroke-dashoffset="-12"/><circle cx="308" cy="359" r="116.5" fill="none" stroke="#fff" stroke-width="1.8" stroke-dasharray="5.6 14.4" stroke-dashoffset="-12.7"/><circle cx="442.3" cy="433.9" r="116.1" fill="none" stroke="#111" stroke-width="1.1" stroke-dasharray="11 9"/><circle cx="442.3" cy="433.9" r="116.1" fill="none" stroke="#7a7a7a" stroke-width="3.2" stroke-dasharray="7 13" stroke-dashoffset="-12"/><circle cx="442.3" cy="433.9" r="116.1" fill="none" stroke="#fff" stroke-width="1.8" stroke-dasharray="5.6 14.4" stroke-dashoffset="-12.7"/><circle cx="370.7" cy="531.5" r="116.5" fill="none" stroke="#111" stroke-width="1.1" stroke-dasharray="11 9"/><circle cx="370.7" cy="531.5" r="116.5" fill="none" stroke="#7a7a7a" stroke-width="3.2" stroke-dasharray="7 13" stroke-dashoffset="-12"/><circle cx="370.7" cy="531.5" r="116.5" fill="none" stroke="#fff" stroke-width="1.8" stroke-dasharray="5.6 14.4" stroke-dashoffset="-12.7"/><circle cx="105.4" cy="495.4" r="117.7" fill="none" stroke="#3a3a3a" stroke-width="0.9" stroke-dasharray="4 1.6"/><circle cx="105.4" cy="495.4" r="117.7" fill="none" stroke="#3a3a3a" stroke-width="3" stroke-dasharray="0.8 9.8"/><circle cx="280" cy="270" r="117" fill="none" stroke="#3a3a3a" stroke-width="0.9" stroke-dasharray="4 1.6"/><circle cx="280" cy="270" r="117" fill="none" stroke="#3a3a3a" stroke-width="3" stroke-dasharray="0.8 9.8"/><circle cx="382.5" cy="186" r="117" fill="none" stroke="#3a3a3a" stroke-width="0.9" stroke-dasharray="4 1.6"/><circle cx="382.5" cy="186" r="117" fill="none" stroke="#3a3a3a" stroke-width="3" stroke-dasharray="0.8 9.8"/></g>
<g id="labels"><text class="lbl" x="192.8" y="85.9" fill="#7a1a1a" textLength="29.9" lengthAdjust="spacingAndGlyphs">CORRIENTES</text><text class="lbl" x="221.8" y="66.4" fill="#7a1a1a" textLength="23.4" lengthAdjust="spacingAndGlyphs">SAN COSME</text><text class="lbl" x="248.5" y="100.3" fill="#333" textLength="53.3" lengthAdjust="spacingAndGlyphs">SAN LUIS DEL PALMAR</text><text class="lbl" x="299" y="55.6" fill="#333" textLength="12" lengthAdjust="spacingAndGlyphs">ITATI</text><text class="lbl" x="349.6" y="77.5" fill="#333" textLength="48" lengthAdjust="spacingAndGlyphs">BERON DE ASTRADA</text><text class="lbl" x="326.9" y="118.8" fill="#333" textLength="24.9" lengthAdjust="spacingAndGlyphs">GRAL. PAZ</text><text class="lbl" x="218.3" y="149" fill="#333" textLength="30.5" lengthAdjust="spacingAndGlyphs">EMPEDRADO</text><text class="lbl" x="276.3" y="165.9" fill="#333" textLength="29.7" lengthAdjust="spacingAndGlyphs">MBURUCUYA</text><text class="lbl" x="224.7" y="205.2" fill="#333" textLength="21.3" lengthAdjust="spacingAndGlyphs">SALADAS</text><text class="lbl" x="178.8" y="247.7" fill="#7a1a1a" textLength="30.4" lengthAdjust="spacingAndGlyphs">BELLA VISTA</text><text class="lbl" x="203.2" y="278.9" fill="#333" textLength="27.8" lengthAdjust="spacingAndGlyphs">SAN ROQUE</text><text class="lbl" x="305.4" y="229.3" fill="#555" textLength="30.3" lengthAdjust="spacingAndGlyphs">CONCEPCION</text><text class="lbl" x="377.9" y="143.2" fill="#7a6a20" textLength="21.7" lengthAdjust="spacingAndGlyphs">SAN MIGUEL</text><text class="lbl" x="449.8" y="151" fill="#333" textLength="27.6" lengthAdjust="spacingAndGlyphs">ITUZAINGO</text><text class="lbl" x="545.7" y="201.6" fill="#333" textLength="28" lengthAdjust="spacingAndGlyphs">SANTO TOMÉ</text><text class="lbl" x="511.6" y="289.2" fill="#333" textLength="32.8" lengthAdjust="spacingAndGlyphs">GRAL. ALVEAR</text><text class="lbl" x="455.7" y="297.2" fill="#333" textLength="30.3" lengthAdjust="spacingAndGlyphs">SAN MARTIN</text><text class="lbl" x="177.4" y="326.3" fill="#333" textLength="20.1" lengthAdjust="spacingAndGlyphs">LAVALLE</text><text class="lbl" x="137.2" y="398.2" fill="#333" textLength="12.1" lengthAdjust="spacingAndGlyphs">GOYA</text><text class="lbl" x="309.8" y="335.6" fill="#6a3510" textLength="24" lengthAdjust="spacingAndGlyphs">MERCEDES</text><text class="lbl" x="263" y="438.6" fill="#333" textLength="39" lengthAdjust="spacingAndGlyphs">CURUZU CUATIA</text><text class="lbl" x="203.2" y="480.7" fill="#333" textLength="15.2" lengthAdjust="spacingAndGlyphs">SAUCE</text><text class="lbl" x="130.2" y="487.7" fill="#6a3510" textLength="21.5" lengthAdjust="spacingAndGlyphs">ESQUINA</text><text class="lbl" x="325.9" y="525" fill="#555" textLength="40.5" lengthAdjust="spacingAndGlyphs">MONTE CASEROS</text><text class="lbl" x="403.1" y="421.2" fill="#7a6a20" textLength="49.2" lengthAdjust="spacingAndGlyphs">PASO DE LOS LIBRES</text></g>
<g id="fire"><ellipse cx="209.3" cy="85.1" rx="49.4" ry="49.1" fill="none" stroke="#b39497" stroke-width="1.9"/>
<ellipse cx="208.3" cy="83.8" rx="48.7" ry="48.4" fill="none" stroke="#fff" stroke-width="2.8"/>
<ellipse cx="208.3" cy="83.8" rx="47.3" ry="47.0" fill="#c3272a" fill-opacity="0.8"/><ellipse cx="167.5" cy="236.5" rx="52.4" ry="48.4" fill="none" stroke="#b39497" stroke-width="1.9"/>
<ellipse cx="166.5" cy="235.2" rx="51.7" ry="47.7" fill="none" stroke="#fff" stroke-width="2.8"/>
<ellipse cx="166.5" cy="235.2" rx="50.3" ry="46.3" fill="#c3272a" fill-opacity="0.8"/><ellipse cx="285.0" cy="260.9" rx="50.1" ry="46.6" fill="none" stroke="#c6a88e" stroke-width="1.9"/>
<ellipse cx="284.0" cy="259.6" rx="49.4" ry="45.9" fill="none" stroke="#fff" stroke-width="2.8"/>
<ellipse cx="284.0" cy="259.6" rx="48.0" ry="44.5" fill="#d6b51f" fill-opacity="0.8"/><ellipse cx="379.0" cy="180.5" rx="44.6" ry="46.8" fill="none" stroke="#c6a88e" stroke-width="1.9"/>
<ellipse cx="378.0" cy="179.2" rx="43.9" ry="46.1" fill="none" stroke="#fff" stroke-width="2.8"/>
<ellipse cx="378.0" cy="179.2" rx="42.5" ry="44.7" fill="#d6b51f" fill-opacity="0.8"/><ellipse cx="601.9" cy="162.3" rx="49.9" ry="52.7" fill="none" stroke="#c6a88e" stroke-width="1.9"/>
<ellipse cx="600.9" cy="161.0" rx="49.2" ry="52.0" fill="none" stroke="#fff" stroke-width="2.8"/>
<ellipse cx="600.9" cy="161.0" rx="47.8" ry="50.6" fill="#d6b51f" fill-opacity="0.8"/><ellipse cx="310.6" cy="357.1" rx="51.9" ry="49.4" fill="none" stroke="#c6a88e" stroke-width="1.9"/>
<ellipse cx="309.6" cy="355.8" rx="51.2" ry="48.7" fill="none" stroke="#fff" stroke-width="2.8"/>
<ellipse cx="309.6" cy="355.8" rx="49.8" ry="47.3" fill="#cc6f1a" fill-opacity="0.8"/><ellipse cx="441.1" cy="434.2" rx="52.7" ry="48.3" fill="none" stroke="#c6a88e" stroke-width="1.9"/>
<ellipse cx="440.1" cy="432.9" rx="52.0" ry="47.6" fill="none" stroke="#fff" stroke-width="2.8"/>
<ellipse cx="440.1" cy="432.9" rx="50.6" ry="46.2" fill="#d6b51f" fill-opacity="0.8"/><ellipse cx="103.3" cy="484.7" rx="57.8" ry="55.2" fill="none" stroke="#c6a88e" stroke-width="1.9"/>
<ellipse cx="102.3" cy="483.4" rx="57.1" ry="54.5" fill="none" stroke="#fff" stroke-width="2.8"/>
<ellipse cx="102.3" cy="483.4" rx="55.7" ry="53.1" fill="#cc6f1a" fill-opacity="0.8"/><ellipse cx="377.8" cy="532.5" rx="50.4" ry="51.6" fill="none" stroke="#c6a88e" stroke-width="1.9"/>
<ellipse cx="376.8" cy="531.2" rx="49.7" ry="50.9" fill="none" stroke="#fff" stroke-width="2.8"/>
<ellipse cx="376.8" cy="531.2" rx="48.3" ry="49.5" fill="#d6b51f" fill-opacity="0.8"/></g>
</g>
<rect x="38.8" y="24.8" width="643.6" height="584.6" fill="none" stroke="#8a8a8a" stroke-width="1.6"/>

<rect x="686.5" y="26.5" width="192" height="24" fill="#ffffc8" stroke="#56564c" stroke-width="1.1"/>
<text class="s" x="692" y="42.8" font-size="11.2" font-weight="bold" fill="#b81414" textLength="181" lengthAdjust="spacingAndGlyphs">INDICE DE PELIGRO DE INCENDIO</text>

<text class="s" x="776.1" y="71.9" font-size="11.9" fill="#000" stroke="#000" stroke-width="0.25" textLength="7.7" lengthAdjust="spacingAndGlyphs">N</text>
<polygon points="780.1,75.7 771.4,104.1 779.7,93.5" fill="#000"/>
<polygon points="780.1,75.7 788.4,103.7 779.7,93.5" fill="#fff" stroke="#000" stroke-width="1.1"/>

<rect x="698.5" y="212.4" width="168" height="25.2" fill="#ffff00" filter="url(#fz)"/>
<text class="s" x="711.6" y="229.2" font-size="11.6" font-weight="bold" fill="#1a1a1a" textLength="140.6" lengthAdjust="spacingAndGlyphs">16 DE SEPTIMBRE DE 2022</text>

<rect x="696" y="244" width="176" height="195.7" fill="#fff" stroke="#000" stroke-width="2"/>
<text class="s" x="700.6" y="259.2" font-size="12.3" font-weight="bold">Referencias</text>
<text class="s" x="700.6" y="279.8" font-size="10.4" font-weight="bold" textLength="166.2" lengthAdjust="spacingAndGlyphs">ESTACIÓN - Radio Aprox. 100km</text>
<g class="s" font-size="9.2" fill="#222">
<text x="728.8" y="295.8">ESMN- Est. Serv. Met. Nac.</text>
<text x="728.8" y="313">EA- Est. Automaticas</text>
<text x="728.8" y="330.5">EM- Est. Manuales</text>
<text x="728.8" y="347.7">NACIONAL</text>
<text x="728.8" y="364.7">PROVINCIAL</text>
<text x="728.8" y="398.8">EUCALIPTUS</text>
<text x="728.8" y="415.8">PINO</text>
<text x="728.8" y="432.8">DEPARTAMENTOS</text>
</g>
<text class="s" x="700.4" y="382.6" font-size="10.6" font-weight="bold">FORESTACIÓN</text>
<g fill="none" stroke-linecap="butt"><path d="M704.6 286.6 Q702.3 287 702.3 290 L702.3 296.5 Q702.3 299 704 299.4" stroke="#222" stroke-width="1"/><path d="M713.8 286.5 L719.5 286.5 Q722 286.8 722 289.8" stroke="#222" stroke-width="1"/><path d="M712.3 299.2 L718.8 299.2" stroke="#222" stroke-width="1"/><rect x="705.4" y="285.3" width="6" height="2.3" stroke="#999" stroke-width="0.7" fill="#fff"/><rect x="720.7" y="292.3" width="2.1" height="6.2" stroke="#999" stroke-width="0.7" fill="#fff"/><rect x="704.5" y="297.7" width="5.6" height="2.4" stroke="#999" stroke-width="0.7" fill="#fff"/></g>
<rect x="702" y="303.3" width="20.3" height="13.2" rx="3.5" fill="none" stroke="#333" stroke-width="0.9"/><circle cx="708.6" cy="303.90000000000003" r="2"/><circle cx="721.7" cy="308.1" r="2"/><circle cx="703.3" cy="314.40000000000003" r="2"/><circle cx="718.1" cy="316.0" r="2"/>
<rect x="702.5" y="320.6" width="20" height="13" rx="3.5" fill="none" stroke="#555" stroke-width="0.8" stroke-dasharray="3 1.3"/><g stroke="#555" stroke-width="0.8"><line x1="706.5" y1="319.1" x2="706.5" y2="322.1"/><line x1="716.5" y1="319.1" x2="716.5" y2="322.1"/><line x1="701.0" y1="329.6" x2="704.0" y2="329.6"/><line x1="721.0" y1="329.6" x2="724.0" y2="329.6"/><line x1="711.5" y1="332.1" x2="711.5" y2="335.1"/></g>
<line x1="700.2" y1="344.5" x2="724" y2="344.5" stroke="#e0401c" stroke-width="1.3"/>
<line x1="700.2" y1="361.5" x2="724" y2="361.5" stroke="#cfe2ea" stroke-width="0.9"/>
<rect x="702.8" y="389.6" width="19.2" height="11.8" rx="3" fill="#ff0000"/>
<rect x="702.8" y="406.2" width="19.2" height="12.2" rx="3" fill="#66ff33"/>
<rect x="702.8" y="423.3" width="19.2" height="12.7" rx="3" fill="#fff" stroke="#555" stroke-width="0.8"/>

<g stroke="#c0c0c0" stroke-width="1" fill="none">
<rect x="722.3" y="446.6" width="124.6" height="117.8"/>
<line x1="769.4" y1="446.6" x2="769.4" y2="564.4"/>
<line x1="722.3" y1="469.9" x2="846.9" y2="469.9"/>
<line x1="722.3" y1="493.3" x2="846.9" y2="493.3"/>
<line x1="722.3" y1="516.8" x2="846.9" y2="516.8"/>
<line x1="722.3" y1="540.4" x2="846.9" y2="540.4"/>
</g>
<ellipse cx="744.8" cy="458.9" rx="11.2" ry="8" fill="#00b050"/>
<ellipse cx="744.8" cy="482.2" rx="11.2" ry="8" fill="#0070c0"/>
<ellipse cx="745.2" cy="505.4" rx="11.2" ry="8" fill="#ffff00"/>
<ellipse cx="745.6" cy="528.4" rx="11.2" ry="8" fill="#f79646"/>
<ellipse cx="746.5" cy="552.7" rx="11.2" ry="8" fill="#ff0000"/>
<g class="s" font-size="10.7" font-weight="bold" fill="#1a1a1a" text-anchor="middle">
<text x="809" y="463.1">BAJO</text>
<text x="809" y="486.5">MODERADO</text>
<text x="809" y="509.9">ALTO</text>
<text x="809" y="533.4">MUY ALTO</text>
<text x="809" y="556.9">EXTREMO</text>
</g>

<rect x="486.8" y="583.6" width="131.9" height="4.9" fill="#fff" stroke="#000" stroke-width="0.9"/>
<rect x="486.8" y="583.6" width="12.3" height="4.9" fill="#000"/>
<rect x="509" y="583.6" width="11.5" height="4.9" fill="#000"/>
<rect x="531.2" y="583.6" width="44.3" height="4.9" fill="#000"/>
<text class="s" x="620.4" y="588.5" font-size="9.2" fill="#222">Kilometers</text>
<g class="s" font-size="8.8" fill="#222" text-anchor="middle">
<text x="486.8" y="598.6">30</text><text x="509.5" y="598.6">15</text><text x="530.4" y="598.6">0</text><text x="574.8" y="598.6">30</text><text x="618" y="598.6">60</text>
</g>

<ellipse cx="699.3" cy="595.2" rx="10.9" ry="12.2" fill="#2e7d22"/>
<ellipse cx="699.3" cy="595.2" rx="9.6" ry="10.9" fill="#86cc50"/>
<ellipse cx="699.3" cy="595.2" rx="6.6" ry="7.8" fill="#2e6a22"/>
<ellipse cx="699.3" cy="595.2" rx="5.6" ry="6.8" fill="#e9e2cf"/>
<path d="M693.7 595.2 a5.6 6.8 0 0 1 11.2 0 z" fill="#9cc7ea"/>
<rect x="697.6" y="590.5" width="3.4" height="5.5" fill="#b0303a"/>
<rect x="695" y="597" width="8.6" height="3" fill="#a88a60"/>
<ellipse cx="699.3" cy="587.3" rx="2.8" ry="1.8" fill="#e8c840"/>
<text class="s" x="715.6" y="593.8" font-size="8.8" font-weight="bold" fill="#111" textLength="33" lengthAdjust="spacingAndGlyphs">Gobierno</text>
<text class="s" x="715.6" y="602" font-size="8.8" font-weight="bold" fill="#111" textLength="35" lengthAdjust="spacingAndGlyphs">Provincial</text>
<text class="s" x="753.2" y="602" font-size="6.8" font-style="italic" fill="#222" textLength="118" lengthAdjust="spacingAndGlyphs">Fuente: Dirección de Recursos Forestales</text>
</svg>
</body></html>
